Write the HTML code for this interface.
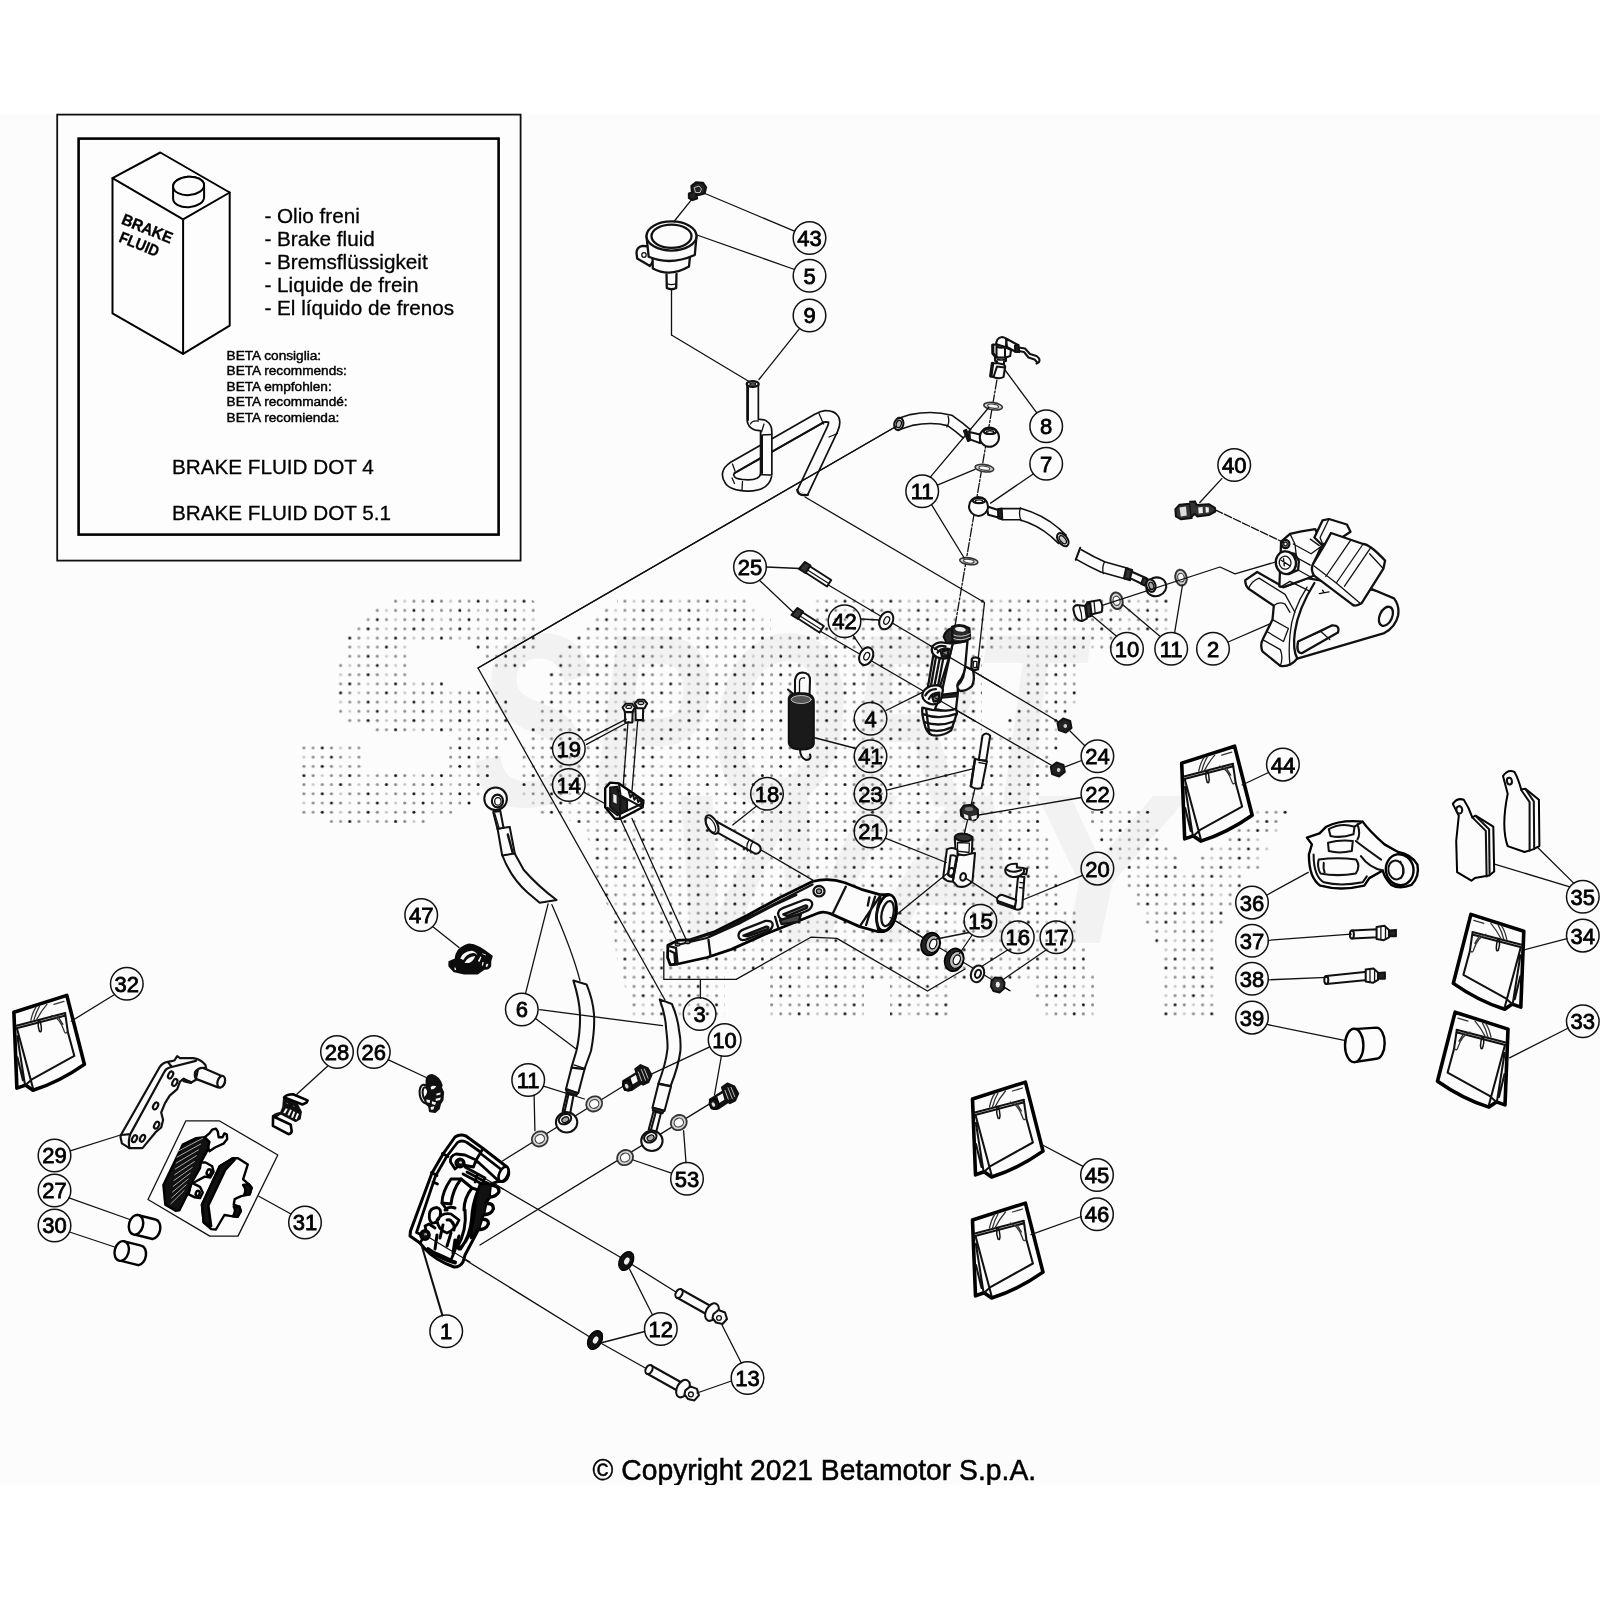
<!DOCTYPE html>
<html lang="en"><head><meta charset="utf-8"><title>Brake system - Betamotor parts diagram</title>
<style>
html,body{margin:0;padding:0;background:#fff;}
body{width:1600px;height:1600px;overflow:hidden;font-family:"Liberation Sans",sans-serif;}
svg{display:block;position:absolute;left:0;top:0;will-change:transform;}
svg text{font-family:"Liberation Sans",sans-serif;fill:#000;}
.l{stroke:#111;stroke-width:1.3;stroke-linecap:round;stroke-linejoin:round}
.t{stroke:#111;stroke-width:2.05;stroke-linecap:round;stroke-linejoin:round}
.b{stroke:#000;stroke-width:2.4;stroke-linecap:round;stroke-linejoin:round}
.w{fill:#fcfcfc}
#p4 .t,#p3 .t,#p5 .t,#p2 .t,#p9 .t{stroke-width:2.3}
#p3 .b{stroke-width:2.8}
.k{fill:#111}
.c circle{fill:none;stroke:#111;stroke-width:1.5}
.c text{font-size:22px;text-anchor:middle;stroke:#000;stroke-width:0.8}
</style></head><body>
<svg width="1600" height="1600" viewBox="0 0 1600 1600" fill="none">
<!-- 00_bg.svgf -->
<rect x="0" y="114" width="1600" height="1370.5" fill="#fcfcfc"/>
<!-- 05_watermark.svgf -->
<defs><pattern id="dots" patternUnits="userSpaceOnUse" x="308.52" y="596.66" width="45.85" height="45.85"><circle cx="4.58" cy="4.58" r="1.5" fill="#c8c8c8"/><circle cx="13.75" cy="4.58" r="1.5" fill="#8a8a8a"/><circle cx="22.93" cy="4.58" r="1.5" fill="#949494"/><circle cx="32.09" cy="4.58" r="1.5" fill="#161616"/><circle cx="41.27" cy="4.58" r="1.5" fill="#858585"/><circle cx="4.58" cy="13.75" r="1.5" fill="#949494"/><circle cx="13.75" cy="13.75" r="1.5" fill="#161616"/><circle cx="22.93" cy="13.75" r="1.5" fill="#858585"/><circle cx="32.09" cy="13.75" r="1.5" fill="#c8c8c8"/><circle cx="41.27" cy="13.75" r="1.5" fill="#8a8a8a"/><circle cx="4.58" cy="22.93" r="1.5" fill="#8a8a8a"/><circle cx="13.75" cy="22.93" r="1.5" fill="#949494"/><circle cx="22.93" cy="22.93" r="1.5" fill="#161616"/><circle cx="32.09" cy="22.93" r="1.5" fill="#858585"/><circle cx="41.27" cy="22.93" r="1.5" fill="#c8c8c8"/><circle cx="4.58" cy="32.09" r="1.5" fill="#949494"/><circle cx="13.75" cy="32.09" r="1.5" fill="#161616"/><circle cx="22.93" cy="32.09" r="1.5" fill="#858585"/><circle cx="32.09" cy="32.09" r="1.5" fill="#c8c8c8"/><circle cx="41.27" cy="32.09" r="1.5" fill="#8a8a8a"/><circle cx="4.58" cy="41.27" r="1.5" fill="#858585"/><circle cx="13.75" cy="41.27" r="1.5" fill="#c8c8c8"/><circle cx="22.93" cy="41.27" r="1.5" fill="#8a8a8a"/><circle cx="32.09" cy="41.27" r="1.5" fill="#949494"/><circle cx="41.27" cy="41.27" r="1.5" fill="#161616"/></pattern><mask id="dotmask" maskUnits="userSpaceOnUse" x="280" y="580" width="1040" height="460"><rect x="280" y="580" width="1040" height="460" fill="#000"/><polygon points="390,596.6 529,596.6 539,606 539,651 529,651 529,670 491.5,670 491.5,660.5 482.5,660.5 482.5,651.5 473.5,651.5 473.5,642.5 408.5,642.5 408.5,679.5 446.5,679.5 446.5,688.5 500.5,688.5 500.5,697.5 510.5,697.5 510.5,743.5 500.5,743.5 500.5,762 492.5,762 492.5,780.5 482.5,780.5 482.5,798.5 474.5,798.5 474.5,807.5 454.5,807.5 454.5,816.5 426.5,816.5 426.5,825.5 327.5,825.5 327.5,816.5 299.5,816.5 299.5,744.5 364.5,744.5 364.5,771 445.5,771 445.5,744 455.5,744 455.5,734.5 371.5,734.5 371.5,725.5 344.5,725.5 344.5,716 335.5,716 335.5,661 344.5,661 344.5,633.5 353.5,633.5 353.5,624 363.5,624 363.5,615 371.5,615 371.5,606 390,606" fill="#fff"/><polygon points="617,596.6 1172.5,596.6 1172.5,633 1113.5,633 1113.5,651.5 1080.5,651.5 1080.5,706.5 1071,706.5 1071,725.5 1062,725.5 1062,753 1053,753 1053,780.5 1043,780.5 1043,835.4 1053,835.4 1053,872.2 1062,872.2 1062,908.8 1076,908.8 1076,945.9 1085,945.9 1085,973.5 1094,973.5 1094,1019.5 1042.5,1019.5 1042.5,1001 1034,1001 1034,983 952,983 952,1019.5 890,1019.5 890,983 864,983 864,1019.5 768.5,1019.5 768.5,974 724.5,974 724.5,1019.5 632,1019.5 627,995 616,955 612,917 597,880 590,842 579,825 575,821 537.5,816.5 537.5,807.5 528.5,807.5 528.5,798.5 519.5,798.5 519.5,743.5 528.5,743.5 528.5,725.5 537.5,725.5 537.5,697.5 547.5,697.5 547.5,670 557.5,670 557.5,651.5 565.5,651.5 565.5,642.5 575.5,642.5 575.5,633.5 583.5,633.5 583.5,624 593.5,624 593.5,615 602,615 602,606 617,606" fill="#fff"/><polygon points="1089.5,807.7 1153.5,807.7 1153.5,826 1162,826 1162,844.5 1171.5,844.5 1171.5,853.7 1181,853.7 1181,872.2 1125.5,872.2 1125.5,863 1117,863 1117,853.7 1107.5,853.7 1107.5,844.5 1097.5,844.5 1097.5,826 1089.5,826" fill="#fff"/><polygon points="1255,807.7 1291.5,807.7 1291.5,816.8 1283,816.8 1283,835.4 1264,835.4 1264,844.5 1272.5,844.5 1272.5,853.7 1264,853.7 1264,872.2 1199.5,872.2 1199.5,853.7 1208.5,853.7 1208.5,844.5 1227.5,844.5 1227.5,835.4 1236,835.4 1236,826 1255,826" fill="#fff"/><polygon points="1125.5,872.2 1245,872.2 1245,890.4 1236.5,890.4 1236.5,908.8 1228,908.8 1228,927.4 1217.5,927.4 1217.5,1019.5 1162.5,1019.5 1162.5,945.9 1153,945.9 1153,927.4 1143.5,927.4 1143.5,908.8 1134,908.8 1134,890.4 1125.5,890.4" fill="#fff"/><polygon points="982,651 1025.5,651 1025.5,706.5 1016,706.5 1016,716 1006.5,716 1006.5,734.5 982,734.5" fill="#000"/><polygon points="748.5,596 813.5,596 813.5,633 770.5,633 770.5,615 759.5,615 759.5,606 748.5,606" fill="#000"/></mask></defs>
<g style="font-weight:bold;font-style:italic" fill="#f5f5f5"><text x="473" y="806" style="font-size:246px;fill:#f2f2f2" textLength="606" lengthAdjust="spacingAndGlyphs">SPORT</text><text x="664" y="943" style="font-size:214px;fill:#f2f2f2" textLength="508" lengthAdjust="spacingAndGlyphs">WAY</text></g>
<rect x="280" y="580" width="1040" height="460" fill="url(#dots)" mask="url(#dotmask)"/>
<!-- 10_box.svgf -->
<g id="fluidbox">
<rect x="57.2" y="114.6" width="463.4" height="446" fill="#fdfdfd" stroke="#111" stroke-width="1.8"/>
<rect x="78.6" y="138.6" width="420" height="396" fill="#fdfdfd" stroke="#000" stroke-width="2.6"/>
<g class="t" style="stroke-width:2;stroke:#000" fill="none">
<path d="M112.5 178.1 L160.3 152.5 L229.7 192.5 L183.1 219.4 Z"/>
<path d="M112.5 178.1 L112.5 313.4 L183.1 353.8 L229.7 325.6 L229.7 192.5"/>
<path d="M183.1 219.4 L183.1 353.8"/>
<ellipse cx="188.6" cy="185.9" rx="15.5" ry="9.2" class="w" transform="rotate(-4 188.6 185.9)"/>
<path d="M173.1 186.5 L173.1 198.8 A15.5 9.2 -4 0 0 204.1 197.2 L204.1 185" class="w"/>
<ellipse cx="188.6" cy="185.9" rx="15.5" ry="9.2" class="w" transform="rotate(-4 188.6 185.9)"/>
</g>
<g style="font-weight:bold;font-size:16px" stroke="#000" stroke-width="0.35">
<text transform="translate(120.4,223.6) rotate(22)" x="0" y="0" textLength="53.5" lengthAdjust="spacingAndGlyphs">BRAKE</text>
<text transform="translate(118,241.4) rotate(22)" x="0" y="0" textLength="41.5" lengthAdjust="spacingAndGlyphs">FLUID</text>
</g>
<g style="font-size:20.7px" stroke="#000" stroke-width="0.3">
<text x="264.4" y="222.5">- Olio freni</text>
<text x="264.4" y="245.6">- Brake fluid</text>
<text x="264.4" y="268.8">- Bremsflüssigkeit</text>
<text x="264.4" y="291.9">- Liquide de frein</text>
<text x="264.4" y="315">- El líquido de frenos</text>
</g>
<g style="font-size:13.65px" stroke="#000" stroke-width="0.45">
<text x="226.6" y="360">BETA consiglia:</text>
<text x="226.6" y="375.3">BETA recommends:</text>
<text x="226.6" y="390.6">BETA empfohlen:</text>
<text x="226.6" y="406.2">BETA recommandé:</text>
<text x="226.6" y="421.6">BETA recomienda:</text>
</g>
<g style="font-size:20.7px" stroke="#000" stroke-width="0.3">
<text x="171.9" y="473.8">BRAKE FLUID DOT 4</text>
<text x="171.9" y="519.7">BRAKE FLUID DOT 5.1</text>
</g>
</g>
<!-- 20_top.svgf -->
<g id="p5">
<path class="t" d="M 650 246.5 L 642.5 245.8 Q 636.5 247 636.5 253 L 637.2 258.5 L 650 266 L 653.5 260.5 Z" style="fill:#fcfcfc"/>
<ellipse class="l" cx="644" cy="255" rx="2.2" ry="2.4"/>
<path class="t" d="M 652.5 256 L 652.8 268.5 Q 670 277.5 689 266.5 L 690 256" style="fill:#fcfcfc"/>
<path class="t" d="M 646.5 236 L 648.7 256.8 Q 670 266 694.8 255 L 696.5 236" style="fill:#fcfcfc"/>
<ellipse class="t" cx="671.5" cy="236" rx="25" ry="14.6" style="fill:#fcfcfc"/>
<ellipse class="t" cx="671.5" cy="236.2" rx="20" ry="11.6"/>
<path class="t" d="M 666.5 274.5 L 666.8 288 Q 671.5 290.5 676.2 288 L 676.5 274" style="fill:#fcfcfc"/>
<path class="l" d="M 666.8 283.5 Q 671.5 285.8 676.2 283.5"/>
<path class="t" d="M 691.5 186 L 696 182.5 L 703 183 L 706 187.5 L 704.5 193.5 L 699 195 L 696 193.5 L 697 198.5 L 692.5 200 L 689 198 L 689 193.5 L 692 192.5 Z" style="fill:#222"/>
<path class="l" d="M 694.5 187.5 L 699 186 L 701.5 189 L 700 192.5 L 696 192.5 Z" style="stroke:#ddd;stroke-width:0.8"/>
<path class="l" d="M692 199.2 L674 221.5"/>
<path class="l" d="M671.5 290 L671.5 335"/>
</g>
<path class="l" d="M705 193.5 L794.5 231.2"/>
<path class="l" d="M697 235 L794.6 269.5"/>
<path class="l" d="M671.5 335 L749 381.5"/>
<path class="l" d="M799.5 328.6 L759 379.5"/>
<g id="p9">
<path d="M 802.5 492.5 L 832.5 429 Q 838 416 825.5 416.2 Q 822 416.5 818 419 L 733 467.5 Q 725 473 730 480 Q 733 485 748 485.5 Q 764 485.5 766.2 475" fill="none" stroke="#111" stroke-width="13" stroke-linejoin="round"/><path d="M 802.5 492.5 L 832.5 429 Q 838 416 825.5 416.2 Q 822 416.5 818 419 L 733 467.5 Q 725 473 730 480 Q 733 485 748 485.5 Q 764 485.5 766.2 475" fill="none" stroke="#fcfcfc" stroke-width="9.6" stroke-linejoin="round"/>
<path class="t" d="M 734.5 473 L 824 422.2" style="stroke-width:2"/>
<path d="M 766.2 475.5 L 766.2 432 Q 766.2 425 760 425 Q 752.7 425 752.7 419 L 752.7 384" fill="none" stroke="#111" stroke-width="13" stroke-linejoin="round"/><path d="M 766.2 475.5 L 766.2 432 Q 766.2 425 760 425 Q 752.7 425 752.7 419 L 752.7 384" fill="none" stroke="#fcfcfc" stroke-width="9.6" stroke-linejoin="round"/>
<path class="t" d="M 797.2 490 Q 798.5 496.5 807.8 494.8"/>
<ellipse class="t" cx="752.7" cy="384" rx="6" ry="2.8" style="fill:#fcfcfc"/>
<ellipse class="l" cx="752.7" cy="384" rx="2.8" ry="1.2" style="fill:#999"/>
<path class="l" d="M 819 413.5 L 823.5 424"/>
<path class="l" d="M 829 437 L 837.5 433.5"/>
<path class="l" d="M 732.5 464 L 735 471"/>
<path class="l" d="M 732 478 L 734.5 483.5"/>
<path class="l" d="M 742.5 481.5 L 742 490"/>
<path class="l" d="M 761 474.5 L 771.5 475"/>
<path class="l" d="M 761.5 435 L 771.5 434.5"/>
<path class="l" d="M 750.5 424 Q 752 420 758.5 421"/>
<path class="l" d="M 764 424 L 761.5 432"/>
<path class="t" d="M 748 387 L 748 420" style="stroke-width:2"/>
<path class="t" d="M 762 436 L 762 473" style="stroke-width:2"/>
</g>
<!-- 22_hoses.svgf -->
<path class="l" d="M996.9 380 L955 626" style="stroke-dasharray:9 2 2 2"/>
<g id="p8">
<path class="t" d="M 1018.5 347.5 L 1025 348.5 L 1030 354 L 1036.5 356 Q 1040.8 359 1039 362 L 1036.5 363.5 M 1018.5 351 L 1024 352 L 1028.5 357.5 L 1034.5 359.5 L 1036.5 361.5"/>
<path class="t" d="M 1006 338.5 L 1018 345 L 1019 352 L 1015 351.5 L 1007 347 Z" style="fill:#fcfcfc"/>
<path class="t" d="M 1015 345.5 L 1018.5 345 L 1019.2 352 L 1015.2 351.8 Z" style="fill:#222"/>
<path class="t" d="M 996 346 Q 995.8 337.5 1002 336.9 Q 1006 337.2 1006.2 340 L 1006 347 Z" style="fill:#fcfcfc"/>
<path class="t" d="M 992.5 345 L 996.5 344.2 L 1005 347 L 1011 350 L 1010.2 356 L 1005 357.8 L 996.5 357.5 L 992.8 353.5 Z" style="fill:#fcfcfc"/>
<path class="t" d="M 996.5 344.2 L 996.5 357.5 M 1005 347 L 1005 357.8 M 996.5 346.5 Q 1001 348.5 1005 347"/>
<path class="t" d="M 992.8 345 L 992.9 353.5 L 996.5 357.5" style="stroke-width:3"/>
<path class="t" d="M 995 357.5 L 1006 357.8 L 1006 361 L 1004 361.5 L 1004 366 L 997 366 L 997 361.2 L 995 360.8 Z" style="fill:#fcfcfc"/>
<path class="l" d="M 997.2 359.5 Q 1001 360.5 1005.8 359.5"/>
<path class="t" d="M 992.5 363.5 L 997 363 L 1004 364.5 L 1005.2 366.5 L 1003.5 377 Q 999 380 990.8 376 Z" style="fill:#fcfcfc"/>
<path class="t" d="M 997 366.5 L 993.5 377 M 997 366.5 L 1004.5 367.5"/>
<path class="t" d="M 992.5 363.5 L 990.8 376" style="stroke-width:3.4"/>
</g>
<ellipse cx="993.1" cy="406.2" rx="9.4" ry="3.6" fill="#d4d4d4" stroke="#333" stroke-width="1.6" transform="rotate(8 993.1 406.2)"/><ellipse cx="993.1" cy="406.2" rx="5.452" ry="1.98" fill="#fcfcfc" stroke="#444" stroke-width="1.2" transform="rotate(8 993.1 406.2)"/>
<ellipse cx="984.4" cy="468.2" rx="9.4" ry="3.6" fill="#d4d4d4" stroke="#333" stroke-width="1.6" transform="rotate(8 984.4 468.2)"/><ellipse cx="984.4" cy="468.2" rx="5.452" ry="1.98" fill="#fcfcfc" stroke="#444" stroke-width="1.2" transform="rotate(8 984.4 468.2)"/>
<ellipse cx="968.8" cy="561.2" rx="9.2" ry="3.4" fill="#d4d4d4" stroke="#333" stroke-width="1.6" transform="rotate(8 968.8 561.2)"/><ellipse cx="968.8" cy="561.2" rx="5.336" ry="1.87" fill="#fcfcfc" stroke="#444" stroke-width="1.2" transform="rotate(8 968.8 561.2)"/>
<g id="p7a">
<path d="M 967.5 434.4 Q 960 427.5 950 420.6 Q 932.5 415.6 911.2 420 L 898.8 424" fill="none" stroke="#111" stroke-width="12.6" stroke-linejoin="round"/><path d="M 967.5 434.4 Q 960 427.5 950 420.6 Q 932.5 415.6 911.2 420 L 898.8 424" fill="none" stroke="#fcfcfc" stroke-width="9.4" stroke-linejoin="round"/>
<ellipse class="t" cx="898.8" cy="424" rx="4.5" ry="6.2" transform="rotate(15 898.8 424)" style="fill:#fcfcfc"/>
<ellipse class="l" cx="898.8" cy="424" rx="2.5" ry="3.8" transform="rotate(15 898.8 424)" style="fill:#bbb"/>
<path class="l" d="M 948.1 416.2 Q 950 421.9 946.9 426.9"/>
<path class="t" d="M 966.2 429.8 L 970.2 440 L 968.1 441 L 964 431 Z" style="fill:#222"/>
<path class="t" d="M 969.4 431.9 L 980 434.4 L 980 443.1 L 970 439.4 Z" style="fill:#fcfcfc"/>
<circle cx="989.4" cy="437.2" r="9.6" fill="#fcfcfc" class="t"/><ellipse cx="990" cy="431.4" rx="6.2" ry="2.6" fill="#fcfcfc" class="t"/><ellipse cx="990" cy="432.2" rx="3.72" ry="1.43" class="l"/>
<path class="l" d="M 980 433.1 Q 978.8 437.5 980.6 443.1"/>
</g>
<path class="l" d="M896 426.5 L478 668"/>
<g id="p7b">
<path d="M 1001.7 514.2 L 1020.5 514.2 Q 1040 519.7 1055 532.5 L 1062.8 539.7" fill="none" stroke="#111" stroke-width="12.8" stroke-linejoin="round"/><path d="M 1001.7 514.2 L 1020.5 514.2 Q 1040 519.7 1055 532.5 L 1062.8 539.7" fill="none" stroke="#fcfcfc" stroke-width="9.6" stroke-linejoin="round"/>
<ellipse class="t" cx="1062.8" cy="539.7" rx="4.5" ry="7.5" transform="rotate(-38 1062.8 539.7)" style="fill:#fcfcfc"/>
<ellipse class="l" cx="1062.8" cy="539.7" rx="2.5" ry="4.8" transform="rotate(-38 1062.8 539.7)" style="fill:#ccc"/>
<path class="l" d="M 1020.5 507.7 Q 1018.2 514.5 1021.2 520.8"/>
<path class="t" d="M 997.7 509.2 L 1001.7 508.5 L 1002.2 519.3 L 998.3 518.2 Z" style="fill:#222"/>
<path class="t" d="M 986.7 506.2 L 998 510 L 998.3 517.5 L 988.2 514.8 Z" style="fill:#fcfcfc"/>
<circle cx="978.5" cy="506.4" r="9.5" fill="#fcfcfc" class="t"/><ellipse cx="979" cy="500.6" rx="6.2" ry="2.6" fill="#fcfcfc" class="t"/><ellipse cx="979" cy="501.4" rx="3.72" ry="1.43" class="l"/>
</g>
<g id="p7c">
<path d="M 1078.2 554.2 Q 1091 561.7 1103 567 L 1127 573.7" fill="none" stroke="#111" stroke-width="12.4" stroke-linejoin="round"/><path d="M 1078.2 554.2 Q 1091 561.7 1103 567 L 1127 573.7" fill="none" stroke="#fcfcfc" stroke-width="9.2" stroke-linejoin="round"/>
<path class="t" d="M 1080.2 547.8 L 1075.7 559.8"/>
<path class="l" d="M 1104.5 561.7 Q 1101.8 567.7 1103.3 573.7"/>
<path class="t" d="M 1126.2 568.2 L 1132.2 570 L 1130 580.2 L 1124 578.2 Z" style="fill:#333"/>
<path class="t" d="M 1131.8 571.8 L 1146.5 578.2 L 1144.2 585 L 1130 578.2 Z" style="fill:#fcfcfc"/>
<path class="t" d="M 1143.5 577.5 L 1147.7 579.3 L 1145 585.7 L 1141.2 583.8 Z" style="fill:#333"/>
<ellipse class="t" cx="1156.2" cy="586.8" rx="10.2" ry="9.3" transform="rotate(-20 1156.2 586.8)" style="fill:#fcfcfc"/>
<ellipse class="t" cx="1151" cy="585.7" rx="4.5" ry="6.3" transform="rotate(-15 1151 585.7)" style="fill:#fcfcfc"/>
<ellipse class="l" cx="1151.3" cy="585.9" rx="2.4" ry="3.9" transform="rotate(-15 1151.3 585.9)" style="fill:#aaa"/>
</g>
<ellipse cx="1181" cy="577.6" rx="5.6" ry="8" fill="#d4d4d4" stroke="#333" stroke-width="2" transform="rotate(-12 1181 577.6)"/><ellipse cx="1181" cy="577.6" rx="3.248" ry="4.4" fill="#fcfcfc" stroke="#444" stroke-width="1.2" transform="rotate(-12 1181 577.6)"/>
<ellipse cx="1116.6" cy="600.8" rx="6" ry="8.4" fill="#d4d4d4" stroke="#333" stroke-width="2" transform="rotate(-12 1116.6 600.8)"/><ellipse cx="1116.6" cy="600.8" rx="3.48" ry="4.62" fill="#fcfcfc" stroke="#444" stroke-width="1.2" transform="rotate(-12 1116.6 600.8)"/>
<g id="p10a">
<path class="t" d="M 1087.2 602.2 L 1100 600 Q 1103.7 605.2 1101.5 612 L 1088.7 615 Z" style="fill:#fcfcfc"/>
<path class="l" d="M 1089.5 601.8 L 1091 614.5 M 1094 601.2 L 1095.2 613.5"/>
<path class="t" d="M 1085.7 604.5 L 1090.2 603.3 L 1091.7 615.7 L 1087.2 617.2 Z" style="fill:#333"/>
<path class="t" d="M 1073.3 609 Q 1073.7 604.5 1079 605.2 L 1085 606 L 1086.8 618.7 L 1082 621 Q 1075.2 621.7 1073.3 609 Z" style="fill:#fcfcfc"/>
<path class="l" d="M 1079.3 605.7 Q 1082 613.5 1082 621"/>
</g>
<path class="l" d="M1103 605.2 L1220 567 L1235 573.8 L1282.5 560"/>
<path class="l" d="M1005 370 L1036.8 412.8"/>
<path class="l" d="M1033.2 474 L990.6 503.1"/>
<path class="l" d="M988.8 407.5 L930.3 477.2"/>
<path class="l" d="M975 469.4 L937.4 485.2"/>
<path class="l" d="M931.5 504.6 L964.2 558"/>
<path class="l" d="M1089.5 613.5 L1116.6 636.2"/>
<path class="l" d="M1122.5 604.5 L1160.2 636.6"/>
<path class="l" d="M1182.5 585 L1174.6 632.8"/>
<path class="l" d="M805 497 L984.5 602.5 L978 660"/>
<!-- 24_caliper2.svgf -->
<g id="p2">
<path class="t" d="M 1245.3 580.1 L 1257.2 572 L 1283.5 587.1 L 1307.1 578.1 L 1372.9 589.5 L 1394 598.4 Q 1399.7 605.8 1398.1 615.5 Q 1395.6 626.9 1384.3 633.1 L 1297.3 658.6 Q 1290 667.5 1280.3 665.9 L 1262.4 651.3 Q 1259.9 644.8 1262.7 639.6 L 1272.5 619.6 L 1273.8 605.8 L 1248.6 588.7 Q 1244.8 584.6 1245.3 580.1 Z" style="fill:#fcfcfc"/>
<path class="l" d="M 1248.6 588.7 Q 1251 581.4 1259.1 578.1 L 1285.1 594.4 L 1294.9 612.3 M 1273.8 605.8 Q 1278.6 600.9 1285.1 604.1 L 1290 612.3 M 1272.5 619.6 L 1288.4 628.5 M 1262.7 639.6 L 1280.3 649.6 Q 1283.5 657.8 1280.3 665.9 M 1267.3 631.8 L 1283.5 641.5 M 1288.4 628.5 L 1283.5 641.5"/>
<path class="t" d="M 1314.4 583 Q 1298.1 609 1294.9 631.8 Q 1292.4 649.6 1297.3 658.6"/>
<path class="l" d="M 1307.1 587.1 Q 1291.6 610.6 1290 635 Q 1288.4 651.3 1290 665.1"/>
<path class="t" d="M 1298.1 641.5 L 1332.3 625.3 Q 1340.4 625.3 1337.9 632.6 L 1301.7 653.2 Q 1295.7 652.9 1298.1 641.5 Z" style="fill:#fcfcfc"/>
<path class="l" d="M 1298.1 641.5 L 1320.9 631.4 L 1329.8 639.6 M 1320.9 631.4 L 1332.3 625.3"/>
<ellipse class="t" cx="1385.9" cy="616.3" rx="6.2" ry="10.1" transform="rotate(25 1385.9 616.3)" style="fill:#fcfcfc"/>
<path class="l" d="M 1369.6 589.5 L 1379.4 591.9 M 1322.5 590.3 Q 1325.8 593.6 1319.3 593.6 L 1329 591.9"/>
<path class="t" d="M 1281.1 541.6 L 1290 533.9 L 1301.4 531.3 L 1315.2 529.1 L 1322.5 544 L 1312.8 565.1 L 1313.6 575.7 L 1307.1 578.5 L 1283.5 587.1 L 1279.4 586.3 Z" style="fill:#fcfcfc"/>
<path class="l" d="M 1293.3 544 L 1311.1 553.8 L 1320.1 547.3 M 1295.7 557 L 1310.3 565.1 M 1298.1 570 L 1311.1 577.3 M 1280.3 587.1 L 1290 581.4 L 1309.5 591.1 M 1290 533.9 L 1294.9 544 L 1298.1 570"/>
<path class="t" d="M 1322.5 520.4 L 1329 519 L 1346.9 524.5 L 1350.5 531.8 L 1332.3 544 L 1320.9 544 L 1314.4 537.5 Z" style="fill:#fcfcfc"/>
<path class="l" d="M 1329 519 L 1320.1 537.5 L 1322.5 544 M 1310.3 539.1 L 1319.3 545.6"/>
<path class="t" d="M 1324.1 545.6 L 1331 533 L 1363.1 544 Q 1369.6 544 1385.1 560.6 L 1383.4 568.7 L 1361.5 603.3 Q 1355 607.4 1351.8 604.1 L 1314.1 575.7 Q 1310.3 570 1313.1 563.8 Z" style="fill:#fcfcfc"/>
<path class="l" d="M 1363.1 544 L 1336.3 583 L 1360.7 603.8 M 1336.3 583 L 1314.1 565.9 M 1370.4 548.1 L 1344.4 586.3 M 1350.9 539.9 L 1325.8 576.5 M 1383.4 568.7 L 1369.6 553.8"/>
<path class="t" d="M 1286.8 552.1 L 1294.9 553.8 L 1298.9 561.1 L 1298.1 570 L 1288.4 574.1" style="fill:#fcfcfc"/>
<ellipse class="t" cx="1285.9" cy="562.7" rx="10.1" ry="11.4" transform="rotate(-10 1285.9 562.7)" style="fill:#fcfcfc"/>
<ellipse class="l" cx="1285.1" cy="562.7" rx="5.9" ry="6.5" transform="rotate(-10 1285.1 562.7)" style="fill:#fcfcfc"/>
<path class="l" d="M 1281.1 560.3 L 1290 565.9 M 1283.5 558.6 L 1284.3 565.9"/>
<ellipse class="t" cx="1285.5" cy="544" rx="3.9" ry="4.2" style="fill:#fcfcfc"/>
<ellipse class="l" cx="1285.5" cy="544" rx="1.8" ry="2"/>
</g>
<g id="p40">
<path class="t" d="M 1175.4 509.1 L 1179.5 504.7 L 1190.1 503.7 L 1191.7 518 L 1181.1 519.3 L 1175.9 516.4 Z" style="fill:#333"/>
<path class="l" d="M 1179.5 507.4 L 1186 506.6 L 1186.8 515.6 L 1180.8 516.4 Z" style="fill:#ddd;stroke:none"/>
<path class="t" d="M 1190.1 501.8 L 1194.9 501.4 L 1196.6 505 L 1208.8 504.2 L 1214.9 507.9 L 1215.3 511.5 L 1208.8 515.1 L 1197.1 516.4 L 1194.9 513.9 L 1191.7 516.4" style="fill:#333"/>
<path class="l" d="M 1198.2 507.4 L 1202.6 507 L 1202.9 513.1 L 1198.7 513.5 Z M 1205.5 507 L 1208.8 507.4 L 1208.8 512.3 L 1205.8 512.8 Z" style="fill:#eee;stroke:none"/>
</g>
<path class="l" d="M1221.8 478.6 L1199.8 502.5"/>
<path class="l" d="M1215.3 509.9 L1283.5 542.4" style="stroke-dasharray:8 2"/>
<path class="l" d="M1228.2 642 L1270.5 623.6"/>
<!-- 30_master.svgf -->
<path class="l" d="M827.5 584.5 L1063.8 725"/>
<path class="l" d="M820 631 L1057.5 768.8"/>
<g id="p4">
<path class="t" d="M 922.3 707.6 Q 921.7 713.7 924.1 722.5 Q 926.2 733 932.4 735.2 Q 942 736.9 951.2 730.4 L 957 712.9 L 956 708.5 Q 939.4 712.9 922.3 707.6 Z" style="fill:#fcfcfc"/>
<path class="t" d="M 922.9 714.2 Q 939.4 720.3 956.9 713.7 M 924.3 722.1 Q 939.4 727.3 954.4 721.2 M 926.7 729.1 Q 939.4 733.4 952.3 727 M 926.2 709.8 L 929.3 733.4"/>
<path class="t" d="M 941.1 694.5 L 957.9 692.3 L 956 708.9 Q 945.5 712.4 935 708.9 Z" style="fill:#fcfcfc"/>
<path class="l" d="M 942 694.9 L 957.3 692.9 L 957 696.7 L 941.8 698 Z" style="fill:#222"/>
<path class="t" d="M 965.2 666.5 L 972.8 670 Q 975.4 678.7 971.9 686.2 Q 966.5 691.2 960.4 691 Q 956.9 689.4 956.9 686.2 Q 961.2 682.2 963.2 677 Z" style="fill:#fcfcfc"/>
<path class="t" d="M 971.9 658.6 Q 975.4 656 979.4 658.8 L 977.9 669.3 Q 974.4 671 971.3 668.4 Z" style="fill:#fcfcfc"/>
<path class="l" d="M 973.7 661.2 L 977 661.7 L 976.3 667.8 L 973.1 667.2 Z"/>
<path class="t" d="M 952.5 643.7 L 967.5 640.9 L 965.2 666.5 Q 964.7 672.6 961.2 678.7 Q 956 684 957.7 688.4 L 957.9 692.6 L 941.1 694.9 Z" style="fill:#fcfcfc"/>
<path class="t" d="M 952.1 626.7 Q 960.4 622.9 969.3 628.2 L 970.2 638.5 Q 961.2 644.2 951.6 641.3 Z" style="fill:#2a2a2a"/>
<ellipse class="l" cx="960.4" cy="629.3" rx="5.4" ry="2.3" transform="rotate(8 960.4 629.3)" style="fill:#eee;stroke:none"/>
<path class="l" d="M 952.5 634.6 Q 961.2 638.5 970 633.7 M 952.3 638.1 Q 961.2 642 970 637.2" style="stroke:#ddd;stroke-width:0.9"/>
<path class="t" d="M 943.7 636.7 Q 945.5 629.7 952.1 628 L 952.5 641.1 L 947.2 643.7 Z" style="fill:#2a2a2a"/>
<path class="t" d="M 933.2 656 L 928 686.6 L 939.4 688.4 L 949 657.7 Z" style="fill:#fcfcfc"/>
<path class="t" d="M 936 656.9 L 930.8 686.8 M 939.8 657.7 L 934.1 687.5 M 943.3 658.4 L 937.6 687.9"/>
<path class="t" d="M 932.2 646.8 Q 936.7 641.1 945.5 642.9 L 952.7 643.7 L 949.4 657.3 Q 942 659.9 936.7 657 Q 930.2 653.5 932.2 646.8 Z" style="fill:#fcfcfc"/>
<path class="t" d="M 935 649 Q 938.5 644.6 945.5 646.4 M 937.6 652.5 Q 941.1 647.7 949 649 M 941.1 652.5 L 949 649 L 947.7 656 L 942 656.9 Z"/>
<path class="l" d="M 942 652.5 L 948.1 649.9 L 947.2 655.6 L 942.9 656 Z" style="fill:#888"/>
<path class="t" d="M 922.6 692.9 Q 926.2 685.7 935 685.3 Q 942 684.7 943 690.1 L 940.4 701.5 Q 935 706 928.9 703.4 Q 920.8 699.9 922.6 692.9 Z" style="fill:#fcfcfc"/>
<path class="t" d="M 925.4 695.4 Q 928.9 689.2 935.9 689.2 M 928.9 698.9 Q 931.5 692.7 939.4 692.7 M 932.4 697.1 L 939.4 693.6 L 938.5 700.6 L 933.7 701.5 Z"/>
<path class="l" d="M 932.8 697.1 L 938.9 694.3 L 938.1 700.2 L 933.9 700.8 Z" style="fill:#888"/>
</g>
<path class="l" d="M886 710.5 L921.9 692.7"/>
<path class="l" d="M930 645.6 L1000 687"/>
<path class="l" d="M935 697.7 L975 721"/>
<path class="t" d="M 800 569 L 805.5 563.5 L 831.2 580 L 827 586.5 Z" style="fill:#fcfcfc"/><path class="t" d="M 799 569 L 805 562 L 810.5 565.5 L 805.5 573 Z" style="fill:#333"/><path class="l" d="M 807.5 570 L 828 583"/>
<path class="t" d="M 792.5 615 L 798 609.5 L 823.8 626 L 819.5 632.5 Z" style="fill:#fcfcfc"/><path class="t" d="M 791.5 615 L 797.5 608 L 803 611.5 L 798 619 Z" style="fill:#333"/><path class="l" d="M 800 616 L 820.5 629"/>
<ellipse cx="886.2" cy="620.5" rx="6.6" ry="9.2" transform="rotate(25 886.2 620.5)" fill="#fcfcfc" class="t"/><ellipse cx="886.7" cy="620.5" rx="2.6" ry="4" transform="rotate(25 886.7 620.5)" fill="#fcfcfc" class="l"/>
<ellipse cx="866.2" cy="656.2" rx="6.6" ry="9.2" transform="rotate(25 866.2 656.2)" fill="#fcfcfc" class="t"/><ellipse cx="866.7" cy="656.2" rx="2.6" ry="4" transform="rotate(25 866.7 656.2)" fill="#fcfcfc" class="l"/>
<path class="l" d="M766.3 567 L800 568.5"/>
<path class="l" d="M759.5 580.3 L793.5 612.5"/>
<path class="l" d="M860.6 619 L879 620"/>
<path class="l" d="M853 635.2 L863 650"/>
<polygon points="1071.5,727.9 1065.8,732.5 1058.8,730.1 1057.5,723.1 1063.2,718.5 1070.2,720.9" fill="#222" stroke="#111" stroke-width="2" stroke-linejoin="round"/><circle cx="1065.3" cy="726" r="2.475" fill="#ccc" stroke="#111" stroke-width="1"/>
<polygon points="1064.8,771.9 1059.1,776.5 1052.1,774.1 1050.8,767.1 1056.5,762.5 1063.5,764.9" fill="#222" stroke="#111" stroke-width="2" stroke-linejoin="round"/><circle cx="1058.6" cy="770" r="2.475" fill="#ccc" stroke="#111" stroke-width="1"/>
<path class="l" d="M1084.8 745.8 L1070 731"/>
<path class="l" d="M1081.6 760.5 L1065 766.8"/>
<g id="p41">
<path class="t" d="M 795 695 L 795 680 Q 796.2 672.5 802.5 672.5 Q 810 673 810 680 L 809.5 696.2" style="fill:#fcfcfc"/>
<path class="l" d="M 799.5 695 L 799.5 681.2 Q 800.5 677 804.5 678"/>
<path class="t" d="M 788.8 700 Q 788 692.5 800 693 Q 813.8 693 813.8 701.2 L 813.8 743.8 Q 813 749.5 801.2 749.5 Q 789.5 749.5 788.8 743 Z" style="fill:#1a1a1a"/>
<ellipse class="l" cx="801.2" cy="699.5" rx="10" ry="4" style="fill:#555;stroke:#ddd;stroke-width:0.8"/>
<path class="t" d="M 800 749.5 Q 800 757.5 806.2 760 Q 812 759.5 810 754.5"/>
<path class="t" d="M 788 689.5 L 793 693.8"/>
</g>
<path class="l" d="M813.8 737.5 L856 748.5"/>
<path class="l" d="M975 788.1 L963.8 836.2"/>
<g id="p23">
<path class="t" d="M 975 759 L 970.6 786.2 Q 975.6 790 981.5 788.1 L 986.9 761.2 Z" style="fill:#fcfcfc"/>
<path class="t" d="M 982.5 735.6 Q 986.2 731.2 990.2 735.6 L 986.2 760.6 L 978.8 759.8 Z" style="fill:#fcfcfc"/>
<path class="t" d="M 975 759 L 971 786.2" style="stroke-width:2.4"/>
<path class="l" d="M 979 762.5 L 986.2 763.8"/>
</g>
<path class="l" d="M886.6 790.2 L972.5 768.8"/>
<g id="p22">
<path class="t" d="M 960.6 810 L 963.8 805.6 L 972.5 804.8 L 977.8 809.4 L 978.1 816.9 L 975 820 L 965 818.8 L 961.2 815.6 Z" style="fill:#2a2a2a"/>
<path class="l" d="M 963.8 813.8 L 968.1 815.6 L 968.5 819.4 L 964.5 818.1 Z M 971.2 816.2 L 976.9 815 L 976.5 818.8 L 971.9 820 Z" style="fill:#eee;stroke:none"/>
<ellipse class="l" cx="969" cy="809" rx="4.2" ry="2" style="fill:#777;stroke:none"/>
</g>
<path class="l" d="M978.8 815 L1081.6 797.5"/>
<g id="p21">
<path class="t" d="M 957.5 855 L 975 853.1 L 972.5 881.2 Q 966.2 888.8 957.5 886.2 L 952.8 881.2 Z" style="fill:#fcfcfc"/>
<path class="t" d="M 954.8 836.9 Q 962.5 831.2 972.5 836.9 L 971.9 853.1 Q 962.5 857.5 955.6 852.5 Z" style="fill:#fcfcfc"/>
<ellipse class="t" cx="963.5" cy="837.5" rx="8.5" ry="3.8" transform="rotate(5 963.5 837.5)" style="fill:#333"/>
<path class="l" d="M 957.5 842.5 L 969.4 843.1 L 969 852.5 L 957.5 851.2 Z"/>
<path class="t" d="M 946.9 849.4 Q 952.5 846.2 957.5 850 L 957.5 855 L 952.8 881.2 Q 947.5 882.5 943.1 877.8 Z" style="fill:#fcfcfc"/>
<path class="t" d="M 950.6 855.6 Q 954.4 854.4 956.5 856.9 L 952.8 877.5 Q 950 876.9 948.1 875 Z" style="fill:#fcfcfc"/>
<ellipse class="t" cx="951.2" cy="871.9" rx="2.8" ry="4" transform="rotate(15 951.2 871.9)" style="fill:#fcfcfc"/>
<ellipse class="t" cx="963.1" cy="876.9" rx="2.8" ry="3.8" transform="rotate(15 963.1 876.9)" style="fill:#fcfcfc"/>
</g>
<path class="l" d="M885.3 838.2 L946.2 862.5"/>
<g id="p20">
<path class="t" d="M 1018.1 876.2 L 1024.4 876.9 L 1022.2 907.5 Q 1018.8 911.2 1014.8 908.8 Z" style="fill:#fcfcfc"/>
<path class="t" d="M 996.9 898.8 Q 998.8 894.4 1002.5 895 L 1016.2 900 L 1014.4 908.8 L 998.1 903.1 Z" style="fill:#fcfcfc"/>
<path class="t" d="M 997.8 901.2 L 1013.8 906.9" style="stroke-width:2.4"/>
<path class="t" d="M 1005.2 870 Q 1006.2 863.8 1015 863.8 L 1016.9 863.8 L 1016.9 867.5 L 1023.8 868.1 L 1024 871.9 Q 1020 877.5 1012.5 876.9 Q 1005 875.6 1005.2 870 Z" style="fill:#fcfcfc"/>
<path class="t" d="M 1006.2 869.4 Q 1012.5 873.8 1021.2 870 M 1024.4 868.8 L 1027.2 868.5 L 1026.2 874.4 L 1023.5 874"/>
<path class="l" d="M 1020 882.5 L 1023.5 882.8 M 1019.4 887.5 L 1023.1 888.1"/>
</g>
<path class="l" d="M1022.5 900 L1082.6 875.4"/>
<path class="l" d="M965.6 878.1 L996.9 898.1"/>
<path class="l" d="M949 872 L890 920"/>
<!-- 32_lever.svgf -->
<path class="l" d="M896 426.5 L478 668 L665 1000"/>
<path class="l" d="M663.8 951.8 L663.8 979.4 L736.1 979.4 L810.9 937.2 L836.9 938.4 L927.5 991 L965 969"/>
<path class="l" d="M700.4 979.4 L700.4 998"/>
<path class="l" d="M890 917.5 L1008.8 990"/>
<g id="p3">
<path class="b" d="M 667.9 945.3 L 677.6 940.4 L 690.6 939.6 L 715 931.5 L 747.5 915.3 L 780 897.4 L 812.5 881.5 Q 828.8 877.1 845 882.8 L 861.3 889.3 L 880.8 894.9 L 888.9 894.5 Q 897 900.6 896.2 913.6 Q 893.8 928.3 884 931.5 L 877.5 931.5 L 859.6 926.6 L 830.4 913.6 Q 823.9 911.2 819 912.8 L 796.3 921.8 L 763.8 934.8 L 731.3 949.4 L 706.9 957.5 L 677.6 964 L 670.3 964.8 L 667.6 957.5 Z" style="fill:#fcfcfc"/>
<path class="t" d="M 690.6 940 Q 703.6 936.4 718.3 931.5 L 754 914.4 L 789.8 896.1 L 812.5 884.4 M 679.3 944.5 L 706.9 938 L 741 922.6 L 773.5 905.5 L 796.3 894.9 M 677.6 964 L 676 947.8 L 667.9 945.8 M 670.3 951 L 674.4 953 L 675.2 964"/>
<path class="t" d="M 708.5 940 L 710.5 955.9 M 775.1 916.9 L 778.7 929.1 M 845.8 886.8 L 832.8 913.6 M 880.8 894.9 L 859.6 926.6 M 875.1 896.6 L 866.1 925 M 869.4 897.4 L 867.8 905.5"/>
<path class="t" d="M 738.6 936.4 Q 737.8 931.5 744.3 929.1 L 765.4 920.9 Q 772.7 920.1 772.7 925 Q 771.9 929.9 767 931.5 L 745.9 939.6 Q 739.4 941.3 738.6 936.4 Z" style="fill:#fcfcfc"/>
<path class="t" d="M 743.4 935.6 L 766.2 926.6 Q 769.4 926.6 767.8 929.1 L 747.5 936.4 Z" style="fill:#888"/>
<path class="t" d="M 778.4 915.3 Q 776.8 910.4 783.3 907.9 L 804.4 899.8 Q 812.5 899 812.2 904.7 Q 810.9 909.6 806 911.2 L 786.5 919.3 Q 780 920.9 778.4 915.3 Z" style="fill:#fcfcfc"/>
<path class="t" d="M 783.3 914.4 L 805.2 905.5 Q 808.4 905.5 806.8 907.9 L 787.3 916.1 Z" style="fill:#888"/>
<path class="t" d="M 780 920.1 L 801.1 913.6 L 798.7 921.8 L 781.6 924.2 Z" style="fill:#444"/>
<ellipse class="t" cx="819" cy="891.2" rx="5.5" ry="5.2" style="fill:#fcfcfc"/>
<ellipse class="l" cx="819" cy="891.2" rx="2.6" ry="2.4" style="fill:#999"/>
<ellipse class="l" cx="677.6" cy="944.5" rx="2.3" ry="1.5" style="fill:#777"/>
<ellipse class="l" cx="687.7" cy="942.2" rx="2.3" ry="1.5" style="fill:#777"/>
<ellipse class="b" cx="886.4" cy="912.8" rx="9.4" ry="18.2" transform="rotate(12 886.4 912.8)" style="fill:#fcfcfc"/>
<ellipse class="t" cx="887.6" cy="913.6" rx="5.9" ry="12.7" transform="rotate(12 887.6 913.6)" style="fill:#fcfcfc"/>
<path class="t" d="M 880.4 897.1 Q 874.3 912 878.3 930.7"/>
</g>
<path class="l" d="M627.9 723.3 L623.1 787.5"/>
<path class="l" d="M637.7 720.9 L632 790.8"/>
<path class="l" d="M620.6 819.2 L677.5 942.7"/>
<path class="l" d="M632 818.4 L686.4 940.3"/>
<g id="p19">
<path class="t" d="M 624.9 711.5 L 632.7 711.5 L 632.3 722.5 L 625.2 722.5 Z" style="fill:#fcfcfc"/>
<path class="t" d="M 622.6 707.4 L 625.8 703.7 L 632 703.7 L 634.9 707.4 L 632.3 712.1 L 625.2 712.1 Z" style="fill:#fcfcfc"/>
<ellipse class="l" cx="628.8" cy="706.9" rx="2.9" ry="1.5"/>
<path class="t" d="M 635.4 707.6 L 643.2 707.6 L 642.9 720.1 L 635.7 720.1 Z" style="fill:#fcfcfc"/>
<path class="t" d="M 634.8 703.5 L 638 699.8 L 644.2 699.8 L 647.1 703.5 L 644.5 708.2 L 637.4 708.2 Z" style="fill:#fcfcfc"/>
<ellipse class="l" cx="640.9" cy="703" rx="2.9" ry="1.5"/>
</g>
<path class="l" d="M584.9 740.4 L626.3 719.2"/>
<path class="l" d="M586.5 744.4 L628.7 721.7"/>
<g id="p14">
<path class="b" d="M 605.2 788.3 L 610.1 782.6 L 619 783.4 L 643.4 800.5 L 642.6 807.3 L 620.6 818.7 L 614.9 818.7 L 605.2 807.3 Z" style="fill:#fcfcfc"/>
<path class="t" d="M 610.1 787.5 L 617.4 786.7 L 619 795.6 L 627.1 800.5 L 627.1 810.3 L 619 814.3 L 610.1 807 Z" style="fill:#222"/>
<path class="l" d="M 613.3 794 L 616.6 795.6 L 616.6 803.8 L 613.3 802.1 Z" style="fill:#eee;stroke:none"/>
<path class="t" d="M 619 784.3 L 620.6 795.6 L 642.6 807.3 M 620.6 795.6 L 619.8 818.4 M 628.8 791.6 L 630.4 797.3 L 632.8 794 L 634.4 799.7 L 636.9 796.4 L 638.2 802.1 L 640.5 799.2 L 641.8 804.6"/>
<path class="t" d="M 607.6 807.8 L 617.4 815.1 L 641.8 803.8"/>
</g>
<path class="l" d="M584.1 792.4 L605.2 803.7"/>
<g id="p18">
<path class="t" d="M 714.6 820.5 L 757.9 844.4 Q 762 847.3 760.1 851.2 Q 757.8 854.8 754.2 853.2 L 711.3 829.1 Z" style="fill:#fcfcfc"/>
<path class="l" d="M 749 840.3 Q 745.8 845.2 747.4 851.2 M 752.6 842.4 Q 749.3 847.3 751 853"/>
<ellipse class="t" cx="712" cy="824.6" rx="5.2" ry="10.1" transform="rotate(-28 712 824.6)" style="fill:#fcfcfc"/>
<ellipse class="l" cx="710.8" cy="825" rx="3.6" ry="8.1" transform="rotate(-28 710.8 825)"/>
</g>
<path class="l" d="M756.3 806.2 L732.7 824.9"/>
<path class="l" d="M761.2 850.1 L814 880.9"/>
<ellipse cx="930.6" cy="944" rx="9.4" ry="11.6" transform="rotate(20 930.6 944)" fill="#222" stroke="#000" stroke-width="1.6"/><ellipse cx="932.8" cy="944" rx="6.6" ry="8.6" transform="rotate(20 932.8 944)" fill="#bbb" stroke="#000" stroke-width="1"/><ellipse cx="933.2" cy="944" rx="3.4" ry="5" transform="rotate(20 933.2 944)" fill="#fcfcfc" stroke="#000" stroke-width="1.2"/>
<ellipse cx="954.2" cy="959.8" rx="9.4" ry="11.6" transform="rotate(20 954.2 959.8)" fill="#222" stroke="#000" stroke-width="1.6"/><ellipse cx="956.4" cy="959.8" rx="6.6" ry="8.6" transform="rotate(20 956.4 959.8)" fill="#bbb" stroke="#000" stroke-width="1"/><ellipse cx="956.8" cy="959.8" rx="3.4" ry="5" transform="rotate(20 956.8 959.8)" fill="#fcfcfc" stroke="#000" stroke-width="1.2"/>
<ellipse cx="977.5" cy="973.8" rx="6.4" ry="8.6" transform="rotate(20 977.5 973.8)" fill="#fcfcfc" class="t"/>
<ellipse cx="978" cy="973.8" rx="2.8" ry="4.2" transform="rotate(20 978 973.8)" fill="#fcfcfc" class="t"/>
<path class="t" fill="#333" d="M991.5 981 L995 977.5 L1001.5 978 L1004.5 982.5 L1004 988.5 L999.5 992.5 L993.5 991 L991 986.5 Z"/>
<ellipse cx="997.8" cy="984.6" rx="2.6" ry="3.4" fill="#eee" stroke="#111" stroke-width="0.8"/>
<path class="l" d="M890 917.5 L925 939"/>
<path class="l" d="M1003 986.5 L1010 990.8"/>
<path class="l" d="M969 932.5 L936.5 939"/>
<path class="l" d="M972.2 935 L959.5 953.5"/>
<path class="l" d="M1007.6 950 L981.6 966.5"/>
<path class="l" d="M1046 950 L1002.5 980"/>
<!-- 40_front.svgf -->
<path class="l" d="M623.5 1086 L502.5 1161"/>
<path class="l" d="M709.6 1103.9 L480 1245"/>
<g id="p6a">
<path class="t" d="M 502.2 855 Q 510.6 877.5 527.5 892.5 L 539.7 902.8 L 556.6 900 Q 538.8 886.9 523.8 870 L 514.4 853.1 Z" style="fill:#fcfcfc"/>
<path class="t" d="M 497.5 828.4 L 509.7 826.9 L 514.8 853.5 L 502.2 855.4 Z" style="fill:#fcfcfc"/>
<path class="t" d="M 507.8 834.4 L 512.5 852.2" style="stroke-width:2.4"/>
<path class="t" d="M 493.2 811.9 L 500.3 810.9 L 503.5 827.8 L 497.5 829.1 Z" style="fill:#fcfcfc"/>
<path class="l" d="M 494.7 813.4 L 499 827.8"/>
<ellipse class="t" cx="495.6" cy="798.8" rx="11.3" ry="11.3" style="fill:#fcfcfc"/>
<ellipse class="t" cx="497.5" cy="801" rx="5.6" ry="6.4" style="fill:#fcfcfc"/>
<ellipse class="l" cx="497.9" cy="801.4" rx="3.2" ry="3.8"/>
</g>
<path class="l" d="M548.1 903.8 L525.5 993.6"/>
<path class="l" d="M551.9 904.7 Q572 950 580 980.6"/>
<g id="p6b">
<path class="t" fill="#fcfcfc" d="M573.4 980.6 Q579.5 1000 580 1014.4 Q580.5 1032 576.4 1051 L571.5 1067.4 L584.5 1069 L591 1051 Q595 1030 594 1014.4 Q593 1000 586.6 984.4 Z"/>
<path class="l" d="M 573.9 1064.9 L 585.3 1068.7"/>
<path class="t" d="M 571.5 1067.7 L 584.5 1069.3 L 578.3 1093.1 L 565.8 1089.8 Z" style="fill:#fcfcfc"/>
<path class="t" d="M 567 1089.3 L 577.7 1093.1 L 576.4 1095.3 L 566.3 1092.6 Z" style="fill:#333"/>
<path class="t" d="M 566.6 1093.7 L 573.5 1095.3 L 570.2 1113.2 L 562.6 1111.3 Z" style="fill:#fcfcfc"/>
<path class="t" d="M 568.3 1095 L 564.7 1110.9"/>
<ellipse class="t" cx="566.6" cy="1122.3" rx="10.7" ry="10.1" style="fill:#fcfcfc"/>
<ellipse class="t" cx="565" cy="1119.1" rx="6.5" ry="4.9" transform="rotate(-25 565 1119.1)" style="fill:#fcfcfc"/>
<ellipse class="l" cx="565.3" cy="1119.7" rx="3.6" ry="2.6" transform="rotate(-25 565.3 1119.7)" style="fill:#aaa"/>
</g>
<g id="p6c">
<path class="t" fill="#fcfcfc" d="M659.7 999.4 Q665.5 1015 666.2 1029.4 Q668 1045 667.4 1049.5 Q666 1063 658.4 1083.6 L670.6 1086 Q678.5 1066 680.4 1051 Q681 1040 679.4 1033 Q678 1018 671.9 1004 Z"/>
<path class="l" d="M 660.1 1083.6 L 671.4 1086.2"/>
<path class="t" d="M 658.4 1084 L 671 1086.6 L 664.5 1110.9 L 652.4 1108 Z" style="fill:#fcfcfc"/>
<path class="t" d="M 653.6 1107.7 L 663.8 1110.6 L 662.5 1113.2 L 652.8 1110.4 Z" style="fill:#333"/>
<path class="t" d="M 653.6 1111.3 L 660.9 1113.2 L 656.3 1131.6 L 648.7 1129.5 Z" style="fill:#fcfcfc"/>
<path class="t" d="M 655.7 1112.6 L 651.1 1129.5"/>
<ellipse class="t" cx="651.9" cy="1140.8" rx="10.7" ry="10.1" style="fill:#fcfcfc"/>
<ellipse class="t" cx="650.3" cy="1137.3" rx="6.5" ry="4.9" transform="rotate(-25 650.3 1137.3)" style="fill:#fcfcfc"/>
<ellipse class="l" cx="650.6" cy="1137.9" rx="3.6" ry="2.6" transform="rotate(-25 650.6 1137.9)" style="fill:#aaa"/>
</g>
<ellipse cx="594.2" cy="1103.9" rx="8.2" ry="7.4" fill="#d4d4d4" stroke="#333" stroke-width="1.8" transform="rotate(-30 594.2 1103.9)"/><ellipse cx="594.2" cy="1103.9" rx="4.756" ry="4.292" fill="#fcfcfc" stroke="#444" stroke-width="1.2" transform="rotate(-30 594.2 1103.9)"/>
<ellipse cx="539.8" cy="1138.9" rx="8.2" ry="7.4" fill="#d4d4d4" stroke="#333" stroke-width="1.8" transform="rotate(-30 539.8 1138.9)"/><ellipse cx="539.8" cy="1138.9" rx="4.756" ry="4.292" fill="#fcfcfc" stroke="#444" stroke-width="1.2" transform="rotate(-30 539.8 1138.9)"/>
<ellipse cx="678.8" cy="1122.6" rx="8.2" ry="7.4" fill="#d4d4d4" stroke="#333" stroke-width="1.8" transform="rotate(-30 678.8 1122.6)"/><ellipse cx="678.8" cy="1122.6" rx="4.756" ry="4.292" fill="#fcfcfc" stroke="#444" stroke-width="1.2" transform="rotate(-30 678.8 1122.6)"/>
<ellipse cx="625.1" cy="1157.6" rx="8.2" ry="7.4" fill="#d4d4d4" stroke="#333" stroke-width="1.8" transform="rotate(-30 625.1 1157.6)"/><ellipse cx="625.1" cy="1157.6" rx="4.756" ry="4.292" fill="#fcfcfc" stroke="#444" stroke-width="1.2" transform="rotate(-30 625.1 1157.6)"/>
<path class="t" style="fill:#141414" d="M637.1 1072.5 L623.1 1081.2 L624.8 1090 L631.8 1090 L642.3 1083 Z"/><path style="fill:#f6f6f6" d="M630.7 1078.1 L638.2 1073.6 L639.7 1080.1 L632.4 1084.6 Z"/><ellipse cx="627.5" cy="1085.6" rx="4.6" ry="5.6" transform="rotate(-30 627.5 1085.6)" style="fill:#141414;stroke:#000;stroke-width:1.4"/><ellipse cx="626.7" cy="1086.1" rx="1.6" ry="2.4" transform="rotate(-30 626.7 1086.1)" style="fill:#ddd"/><path class="t" style="fill:#141414" d="M635.3 1069 L640.6 1065.1 L647.6 1068.1 L651.5 1075.1 L648.4 1082.1 L643.2 1084.7 L638.8 1081.2 Z"/><path style="fill:none;stroke:#ccc;stroke-width:0.9" d="M641.2 1069.1 L645.7 1080.6 M644.2 1068.6 L648.2 1078.6 M638.2 1071.6 L641.7 1081.1"/>
<path class="t" style="fill:#141414" d="M723.8 1090.9 L709.8 1099.6 L711.5 1108.4 L718.5 1108.4 L729 1101.4 Z"/><path style="fill:#f6f6f6" d="M717.4 1096.5 L724.9 1092 L726.4 1098.5 L719.1 1103 Z"/><ellipse cx="714.2" cy="1104" rx="4.6" ry="5.6" transform="rotate(-30 714.2 1104)" style="fill:#141414;stroke:#000;stroke-width:1.4"/><ellipse cx="713.4" cy="1104.5" rx="1.6" ry="2.4" transform="rotate(-30 713.4 1104.5)" style="fill:#ddd"/><path class="t" style="fill:#141414" d="M722 1087.4 L727.3 1083.5 L734.3 1086.5 L738.2 1093.5 L735.1 1100.5 L729.9 1103.1 L725.5 1099.6 Z"/><path style="fill:none;stroke:#ccc;stroke-width:0.9" d="M727.9 1087.5 L732.4 1099 M730.9 1087 L734.9 1097 M724.9 1090 L728.4 1099.5"/>
<path class="l" d="M539.7 1009.7 L662.5 1025.6"/>
<path class="l" d="M535.5 1018.6 L576.2 1049"/>
<path class="l" d="M534.1 1095 L534.9 1130.7"/>
<path class="l" d="M543.5 1086.2 L584.5 1099"/>
<path class="l" d="M709.8 1046.8 L651.9 1073.9"/>
<path class="l" d="M721.4 1056 L714.5 1095"/>
<path class="l" d="M686 1162.5 L683.6 1130.7"/>
<path class="l" d="M671.4 1173.2 L633.2 1160"/>
<g id="p47">
<path class="t" d="M 449.4 961.9 L 455.7 959.2 Q 456.1 948 469.2 944.4 Q 477.5 944.6 491.7 956.2 L 490.2 961.1 L 490.2 966 Q 488 969.4 484.2 968.6 L 477.5 973.5 L 464.4 973.5 L 454.2 971.2 L 449.4 966 Z" style="fill:#0c0c0c;stroke:#0c0c0c"/>
<path class="l" d="M 460.2 958.5 Q 462.5 951.7 471.9 950.8 Q 476.7 951.7 477.5 955.9 Q 476.4 952.9 473 952.9 Q 466.2 954 463.2 960 Z M 464.4 963 Q 467 957 475.2 955.9 Q 473.7 960.7 469.2 963 Z M 477.9 961.1 L 480.5 956.2 L 481.4 957.2 L 479.4 961.9 Z M 482.4 961.9 L 483.7 962.1 L 483.1 965.6 L 481.8 965.4 Z M 486.5 963.7 L 488.4 963.9 L 487.2 966.9 L 485.6 966.6 Z M 454.2 967.5 L 455.7 967.7 L 456.1 970.1 L 454.8 969.9 Z M 482.4 953.2 L 486.1 954.7 L 485.9 955.5 L 482.2 954 Z" style="fill:#f8f8f8;stroke:none"/>
</g>
<path class="l" d="M432.6 926.6 L459 947.5"/>
<path class="l" d="M460 1164 L620 1257"/>
<path class="l" d="M425 1235 L589 1336.5"/>
<g id="p1">
<path class="b" d="M 410.5 1231 L 432 1173 L 443 1154 L 455 1137 Q 460 1133.5 466 1136 L 483 1148.5 L 507 1167 Q 510.5 1173 507 1178.5 Q 504 1182.5 499 1181.2 L 491 1184 Q 500 1186 499 1192 Q 496 1197 489.5 1197.5 L 485.5 1203 Q 494 1202.5 493.5 1209 Q 491 1215 483.5 1215 L 481.2 1219 Q 489 1218.5 488.5 1224 Q 486 1230 478.2 1230 L 465 1255 L 463 1262 Q 460 1267.2 454 1267 Q 435 1260 425 1249 L 420 1243 L 410 1236 Z" style="stroke-width:3;fill:#fcfcfc"/>
<path class="b" d="M 416.5 1232.5 L 435.5 1176 L 447 1156 L 457.5 1142.5 Q 461.5 1139.5 467 1142.5 L 479 1151 M 416.5 1232.5 L 422 1235 M 431.5 1172.5 L 437 1175.5 M 442.5 1153.5 L 448 1156.5 M 433 1182 L 437.5 1184" style="stroke-width:2.8"/>
<path class="b" d="M 478 1162 L 499 1181.2 M 483 1148.5 L 475 1162 L 478 1162 M 480 1153 L 502.5 1170.5" style="stroke-width:2.8"/>
<ellipse class="b" cx="503.5" cy="1174" rx="4.2" ry="7.8" transform="rotate(25 503.5 1174)" style="stroke-width:2.6;fill:#fcfcfc"/>
<path class="b" d="M 450.5 1162 Q 449.5 1156 456 1154 L 465 1155 L 476 1160 L 473.5 1167 L 460 1164.5 L 455 1169 Z" style="stroke-width:2.8;fill:#fcfcfc"/>
<ellipse class="b" cx="460" cy="1163" rx="4.4" ry="4.2" style="fill:#111"/>
<ellipse class="l" cx="460.5" cy="1162.5" rx="1.4" ry="1.2" style="fill:#ddd;stroke:none"/>
<path class="b" d="M 465 1167 L 485 1178 L 482 1184 L 463 1174 M 477 1176 L 475 1182 M 467 1172 L 491 1185" style="stroke-width:2.8"/>
<path class="b" d="M 480 1184 L 491 1184 Q 495 1190 489.5 1197.5 L 485.5 1203 Q 490 1208 483.5 1215 L 481.2 1219 Q 485 1224 478.2 1230 L 471 1238 Q 472 1220 475 1206 Q 476 1194 480 1184 Z" style="fill:#111"/>
<path class="b" d="M 491 1186 Q 499 1187 498 1192 Q 495.5 1196 490 1196.2 Z M 486.5 1204.5 Q 493 1203.8 492.5 1209 Q 490.5 1213.5 484.5 1213.5 Z M 482.2 1220.2 Q 488 1219.8 487.5 1224 Q 485.5 1228.5 479.5 1228.5 Z" style="stroke-width:1.6;fill:#fcfcfc"/>
<path class="b" d="M 451 1179 Q 442 1192 442 1203 L 451 1204 Q 452.5 1190 461 1179 Z" style="stroke-width:3;fill:#fcfcfc"/>
<path class="b" d="M 472 1188 Q 464 1198 464 1210 M 478 1190 Q 472 1205 471.5 1220 Q 470 1236 460.5 1249 M 475 1205 Q 474 1220 471 1230 Q 467 1242 459 1249 M 465 1210 Q 467.2 1230 457 1248 M 461 1179 L 472 1188 L 478 1190" style="stroke-width:3"/>
<path class="b" d="M 429.5 1214 Q 430 1208 437 1207.5 Q 442 1209 440 1216 Q 437 1224 432 1223 Q 428.5 1220 429.5 1214 Z M 437 1220 Q 442 1212 451 1214 L 459 1220 Q 455 1230 447 1233 Q 438 1230 437 1220 Z" style="stroke-width:2.8;fill:#fcfcfc"/>
<path class="b" d="M 445 1210 Q 449 1206 455 1208 M 442 1203 L 447 1210 M 451 1221 Q 455 1224 454 1230 M 443 1225 L 440 1238 M 451 1233 L 447 1246 M 459 1236 L 455 1249 M 437 1235 L 435 1249 M 455 1240 L 453 1253 M 447 1220 Q 451 1219 453 1224" style="stroke-width:3"/>
<path class="b" d="M 420 1243 Q 428 1232 425 1226 L 429 1224 L 435 1228 M 425 1249 Q 437 1253 451 1260 L 455 1250" style="stroke-width:2.8"/>
<ellipse class="b" cx="425" cy="1235" rx="4.6" ry="4.8" style="fill:#111"/>
<ellipse class="l" cx="425.5" cy="1234.5" rx="1.4" ry="1.3" style="fill:#ddd;stroke:none"/>
<path class="b" d="M 428 1249 Q 440 1258.5 455 1262.5" style="stroke-width:4"/>
</g>
<path class="l" d="M460 1164 L503 1189"/>
<path class="l" d="M425 1235 L470 1262"/>
<path class="t" d="M421.5 1245 L442.4 1315.4"/>
<path class="l" d="M620 1257 L677.5 1293"/>
<path class="l" d="M589 1336.5 L648 1369.5"/>
<ellipse cx="626.2" cy="1261" rx="6.6" ry="10" transform="rotate(28 626.2 1261)" fill="#111" stroke="#000" stroke-width="1.4"/><ellipse cx="626.8" cy="1261" rx="2.4" ry="3.8" transform="rotate(28 626.8 1261)" fill="#eee"/>
<ellipse cx="595" cy="1340" rx="6.6" ry="10" transform="rotate(28 595 1340)" fill="#111" stroke="#000" stroke-width="1.4"/><ellipse cx="595.6" cy="1340" rx="2.4" ry="3.8" transform="rotate(28 595.6 1340)" fill="#eee"/>
<path class="t" fill="#fcfcfc" d="M676.7 1297.5 L708.7 1315.5 L713.3 1307.5 L681.3 1289.5 Z"/><ellipse cx="679" cy="1293.5" rx="3.2" ry="4.8" transform="rotate(28 679 1293.5)" fill="#fcfcfc" class="t"/><ellipse cx="712" cy="1312.1" rx="6" ry="9.4" transform="rotate(28 712 1312.1)" fill="#fcfcfc" class="t"/><path class="t" fill="#fcfcfc" d="M713.5 1314 l5 -4 l6.5 2.5 l2 6.5 l-4.5 5 l-6.5 -1.5 l-3.5 -4.5 Z"/><circle cx="719" cy="1318" r="2.4" class="l"/>
<path class="t" fill="#fcfcfc" d="M646.8 1373.5 L679.8 1392 L684.2 1384 L651.2 1365.5 Z"/><ellipse cx="649" cy="1369.5" rx="3.2" ry="4.8" transform="rotate(28 649 1369.5)" fill="#fcfcfc" class="t"/><ellipse cx="683" cy="1388.6" rx="6" ry="9.4" transform="rotate(28 683 1388.6)" fill="#fcfcfc" class="t"/><path class="t" fill="#fcfcfc" d="M685.4 1390.4 l5 -4 l6.5 2.5 l2 6.5 l-4.5 5 l-6.5 -1.5 l-3.5 -4.5 Z"/><circle cx="690.9" cy="1394.4" r="2.4" class="l"/>
<path class="l" d="M652.5 1315 L629.5 1269"/>
<path class="l" d="M644.7 1331.5 L602.5 1342.5"/>
<path class="l" d="M741.3 1363 L722 1325"/>
<path class="l" d="M731.4 1381 L697 1393"/>
<!-- 50_groups.svgf -->
<defs><g id="bag"><path d="M0 0 L52.9 -16.9 L70.5 52.1 Q45 70 19.1 78 L11.6 72.8 L3 75.8 Z" fill="#fcfcfc" stroke="#000" stroke-width="3.6" stroke-linejoin="round"/><path class="t" d="M2.3 13.5 L51.4 0.75 M2.6 16 L51.6 3.2 M51.4 2 L54 20 L60.4 43.5 M18.4 66.8 L60.4 43.5 M3 16 L19.1 76 M3.4 24 L10.9 71.3 M3.5 45 L9 68 M11.6 72.8 L18.4 66.8"/><path class="t" d="M24.5 8 Q23.5 14 25.5 19 Q27.5 21 27.5 16 Q27 11 26 8" style="stroke-width:1.5"/><path class="l" d="M17 8 Q19 -1 22 -5 M20 8 Q22 0 25.5 -6 M23 7 Q27 -1 33 -8 M38 3 Q46 6 50 18 Q51 22 53 20 M44 4 L49 12 M40 -8 L50 -11" style="stroke:#333"/></g></defs>
<use href="#bag" transform="translate(13.9 1012.3)"/>
<use href="#bag" transform="translate(1181.7 763.1)"/>
<use href="#bag" transform="translate(972.5 1099)"/>
<use href="#bag" transform="translate(972.5 1220)"/>
<use href="#bag" transform="translate(1523.8 931.3) scale(-1 1)"/>
<use href="#bag" transform="translate(1508 1029.1) scale(-1 1)"/>
<path class="l" d="M113.8 995 L71.2 1021.2"/>
<path class="l" d="M1268.5 772.5 L1242.1 785"/>
<path class="l" d="M1083 1166.4 L1041.6 1144.5"/>
<path class="l" d="M1081.4 1216.5 L1031 1234.7"/>
<path class="l" d="M1567 938.6 L1523.8 950"/>
<path class="l" d="M1568.4 1028 L1509.5 1057.8"/>
<g id="p29">
<path class="t" d="M 198.7 1066.1 L 221.2 1075.7 Q 225.5 1077.8 225 1082.5 Q 223.1 1087.7 218 1087.4 L 195.9 1078.9 Z" style="stroke-width:2.2;fill:#fcfcfc"/>
<ellipse class="t" cx="221.2" cy="1081.7" rx="3.6" ry="6" transform="rotate(18 221.2 1081.7)" style="stroke-width:2.2;fill:#fcfcfc"/>
<path class="t" d="M 120.9 1135 L 159.4 1067.5 Q 162.2 1062.8 167.8 1061.9 L 174.4 1060.5 L 177.2 1056.2 L 180 1058.1 L 193.1 1058.1 Q 200.6 1059.1 205.3 1064.7 L 206.2 1068.4 Q 198.7 1066.6 195 1072.2 Q 194.1 1076.9 196.4 1079.5 L 191.2 1082.5 L 183.7 1078.7 L 180 1081.6 L 177.2 1089.1 L 169.7 1095.6 L 165 1103.1 L 161.2 1112.5 L 163.1 1120 L 161.2 1127.5 L 155.6 1132.2 L 142.5 1148.1 L 129.4 1148.1 L 121.9 1143.4 L 120.5 1136.9 Z" style="stroke-width:2.2;fill:#fcfcfc"/>
<path class="t" d="M 130.3 1134.1 L 164.1 1072.2 Q 165.9 1068.4 169.7 1067.5 L 195.9 1060.9 M 120.9 1135 L 130.3 1134.1 Q 128 1140.6 129.4 1148.1 M 167.8 1061.9 L 171.6 1066.7 M 183.7 1080.2 L 191.2 1082 L 190.8 1083 L 183.6 1081.1 Z" style="stroke-width:2.2"/>
<ellipse class="t" cx="170.6" cy="1075" rx="2.2" ry="3.7" transform="rotate(28 170.6 1075)" style="stroke-width:2.2;fill:#fcfcfc"/>
<ellipse class="t" cx="174.8" cy="1082.5" rx="2.2" ry="3.7" transform="rotate(28 174.8 1082.5)" style="stroke-width:2.2;fill:#fcfcfc"/>
<ellipse class="t" cx="155.6" cy="1105.9" rx="2.2" ry="3.7" transform="rotate(28 155.6 1105.9)" style="stroke-width:2.2;fill:#fcfcfc"/>
<ellipse class="t" cx="156.6" cy="1125.2" rx="2.2" ry="3.7" transform="rotate(28 156.6 1125.2)" style="stroke-width:2.2;fill:#fcfcfc"/>
<ellipse class="t" cx="134.5" cy="1138.7" rx="2.2" ry="3.7" transform="rotate(28 134.5 1138.7)" style="stroke-width:2.2;fill:#fcfcfc"/>
<ellipse class="t" cx="142.5" cy="1138.3" rx="2.2" ry="3.7" transform="rotate(28 142.5 1138.3)" style="stroke-width:2.2;fill:#fcfcfc"/>
</g>
<path class="l" d="M70.2 1150.8 L120.5 1135"/>
<path class="b" fill="#fcfcfc" d="M137.5 1215 L155.5 1219.5 A7 10 15 0 1 152.5 1239 L134.5 1234.5 Z"/><ellipse cx="136" cy="1224.8" rx="7" ry="10" transform="rotate(15 136 1224.8)" fill="#fcfcfc" class="b"/>
<path class="b" fill="#fcfcfc" d="M123.2 1241.2 L141.2 1245.7 A7 10 15 0 1 138.2 1265.2 L120.2 1260.7 Z"/><ellipse cx="121.7" cy="1251" rx="7" ry="10" transform="rotate(15 121.7 1251)" fill="#fcfcfc" class="b"/>
<path class="l" d="M69 1197.8 L131.2 1220"/>
<path class="l" d="M69.5 1232 L116.2 1247.5"/>
<g id="p31">
<path class="l" d="M 185.9 1120.8 L 219.2 1120.8 L 277.8 1155 L 238 1236.1 L 209.8 1236.1 L 148 1199.5 Z"/>
<path class="b" d="M 204.7 1137.2 L 209.4 1133.4 L 212.2 1129.7 L 215.9 1128.7 L 217.8 1131.6 L 218.7 1137.2 L 222.5 1137.2 L 224.4 1133.4 L 226.7 1134.4 L 227.2 1139.1 L 223.4 1143.7 L 215 1147.5 L 209.4 1151.2 Z" style="fill:#fcfcfc"/>
<path class="b" d="M 200.9 1162.5 L 205.6 1162.5 L 212.2 1166.2 L 213.6 1171.9 L 210.3 1177.5 L 204.7 1176.6 L 196.2 1181.2 L 192.5 1183.1 L 200 1186.9 L 202.8 1192.5 L 200 1198.1 L 194.4 1197.2 L 188.7 1194.4 L 192.5 1175.6 Z" style="fill:#fcfcfc"/>
<ellipse class="b" cx="208.9" cy="1172.3" rx="2.1" ry="3" transform="rotate(20 208.9 1172.3)" style="fill:#fcfcfc"/>
<ellipse class="b" cx="197.7" cy="1193.4" rx="1.9" ry="2.6" transform="rotate(20 197.7 1193.4)" style="fill:#fcfcfc"/>
<path class="b" d="M 163.4 1185 L 182.7 1144.7 L 196.2 1138.1 L 204.7 1137.2 L 209.4 1141.9 L 207.5 1150.3 L 200.9 1162.5 L 200 1168.1 L 192.5 1181.2 L 188.7 1191.6 L 179.4 1210.3 L 175.6 1210.8 L 165.3 1204.7 Z" style="fill:#111"/>
<path class="l" d="M 170.9 1203.7 L 184.1 1190.6" style="stroke:#ccc;stroke-width:0.8"/>
<path class="l" d="M 171.7 1197.9 L 186.1 1184.8" style="stroke:#ccc;stroke-width:0.8"/>
<path class="l" d="M 172.4 1192.1 L 188.2 1179" style="stroke:#ccc;stroke-width:0.8"/>
<path class="l" d="M 173.2 1186.3 L 190.2 1173.2" style="stroke:#ccc;stroke-width:0.8"/>
<path class="l" d="M 173.9 1180.5 L 192.3 1167.4" style="stroke:#ccc;stroke-width:0.8"/>
<path class="l" d="M 174.7 1174.7 L 194.4 1161.6" style="stroke:#ccc;stroke-width:0.8"/>
<path class="l" d="M 175.4 1168.9 L 196.4 1155.7" style="stroke:#ccc;stroke-width:0.8"/>
<path class="l" d="M 176.2 1163.1 L 198.5 1149.9" style="stroke:#ccc;stroke-width:0.8"/>
<path class="l" d="M 176.9 1157.2 L 200.6 1144.1" style="stroke:#ccc;stroke-width:0.8"/>
<path class="l" d="M 177.7 1151.4 L 202.6 1138.3" style="stroke:#ccc;stroke-width:0.8"/>
<path class="b" d="M 201.9 1204.7 L 219.7 1166.2 L 232.8 1158.3 L 238 1158.3 L 247.8 1164.4 L 243.1 1179.4 L 248.7 1184.1 L 251.6 1187.8 L 249.7 1194.4 L 241.2 1196.2 L 234.7 1199.1 L 233.7 1204.7 L 239.4 1206.6 L 240.8 1211.2 L 237.5 1216.9 L 230 1215.9 L 224.4 1215 L 215.9 1229.5 L 211.2 1229.1 L 203.7 1222.5 Z" style="fill:#fcfcfc"/>
<path class="b" d="M 201.9 1204.7 L 219.7 1166.2 L 232.8 1158.3 L 234.7 1159.7 L 225.3 1170 L 208.4 1205.6 L 211.2 1226.2 L 203.7 1222.5 Z" style="fill:#111"/>
<path class="b" d="M 243.1 1185 L 248.7 1184.1 L 251.6 1187.8 L 249.7 1194.4 L 244.1 1194.8 Q 246.9 1189.7 243.1 1185 Z M 233.7 1206.6 L 239.4 1206.6 L 240.8 1211.2 L 237.5 1216.9 L 232.8 1216.4 Q 236.6 1211.2 233.7 1206.6 Z" style="fill:#111"/>
</g>
<path class="l" d="M258.8 1196.2 L291 1214"/>
<g id="p28">
<path class="t" d="M 284 1098.5 L 297.1 1104.5 L 300.9 1112 L 299.7 1118.7 L 295.6 1121 L 281 1113.5 L 275 1117.2 L 273.1 1116.1 Q 275 1113.9 277.6 1113.5 L 281 1112.7 L 283.2 1107.5 Z" style="fill:#0e0e0e"/>
<path class="l" d="M 283.2 1112.7 L 285.9 1108.2 L 287.7 1109 L 285.1 1113.5 Z M 287.4 1115 L 290 1109.4 L 291.9 1110.1 L 289.2 1115.7 Z M 291.1 1117.2 L 293.4 1111.2 L 295.2 1112 L 293 1118 Z M 294.9 1118.7 L 297.1 1113.1 L 299 1113.9 L 296.7 1119.5 Z M 286.2 1102.2 L 288.5 1104.5 L 287 1103.7 Z M 293 1105.2 L 294.9 1106.7 L 293.7 1106.6 Z M 279.5 1115 L 281.4 1116.1 L 279.9 1116.5 Z M 286.2 1118.7 L 288.1 1119.5 L 286.6 1119.9 Z" style="fill:#f8f8f8;stroke:none"/>
<path class="b" d="M 284 1097.4 Q 286.2 1094.4 293 1094.2 L 307.6 1100.4 L 306.5 1102.6 L 302.4 1104.5 L 286.2 1098.1 Z" style="stroke-width:2.6;fill:#fcfcfc"/>
<path class="b" d="M 273.1 1116.1 L 272.9 1125.9 L 288.5 1134.1 Q 291.5 1133.7 291.7 1131.1 L 290.7 1124.7 L 286.2 1122.5 L 275 1117.2 Z" style="stroke-width:2.6;fill:#fcfcfc"/>
</g>
<path class="l" d="M327.5 1066.2 L296.8 1094.2"/>
<g id="p26">
<path class="t" d="M 426.6 1080.6 Q 426.9 1075 431.9 1075 Q 438.8 1076.9 441.6 1085 L 440.9 1088.1 Q 435 1083.8 426.6 1085 Z" style="fill:#111"/>
<ellipse class="t" cx="425" cy="1094.1" rx="5.3" ry="9.4" transform="rotate(-10 425 1094.1)" style="fill:#fcfcfc"/>
<ellipse class="t" cx="425.9" cy="1094.1" rx="3.1" ry="6.9" transform="rotate(-10 425.9 1094.1)" style="fill:#fcfcfc"/>
<path class="t" d="M 428.8 1085 Q 435 1083.8 441.2 1088.1 L 443.1 1092.5 L 442.5 1100 L 440 1103.8 L 438.8 1108.8 L 435 1111.9 L 430 1111.2 L 429.1 1106.2 L 425.6 1103.1 L 425 1097.5 Q 428.8 1095 428.8 1085 Z" style="fill:#111"/>
<path class="l" d="M 430.6 1086.9 Q 433.1 1085 436.2 1086.2 Q 434.4 1089.4 431.2 1089.4 Z M 436.2 1093.8 L 440.6 1092.5 L 440.3 1094.4 L 436.6 1095.6 Z M 435.6 1098.8 L 440.9 1097.5 L 440 1100 L 435.9 1100.9 Z M 426.2 1099.4 L 430 1100 L 429.7 1103.1 L 426.9 1102.2 Z M 431.9 1101.2 L 436.2 1102.5 L 435 1105 L 431.9 1104.1 Z M 430.6 1106.9 L 434.4 1106.2 L 433.4 1109.4 L 430.9 1109.7 Z" style="fill:#f4f4f4;stroke:none"/>
</g>
<path class="l" d="M388.5 1059.8 L426.2 1077.5"/>
<g id="p36">
<path class="b" d="M 1306.9 837.6 L 1319.5 833.4 L 1326.3 826.7 Q 1340.6 819.4 1362.6 821.6 Q 1369.3 830.9 1384.5 844.4 L 1398 852 Q 1411.5 854.5 1417.4 864.6 Q 1419.9 876.4 1411.5 884.9 Q 1399.7 889.6 1391.3 884.9 Q 1384.5 878.1 1382.8 870.5 L 1369.3 878.1 L 1364.3 885.7 Q 1340.6 891.3 1320.4 885.7 Q 1308.9 878.1 1308.9 854.5 L 1311.9 844.4 Z" style="fill:#fcfcfc"/>
<path class="t" d="M 1328.8 829.2 Q 1340.6 822.4 1354.5 826.7 L 1353.5 834.3 Q 1340.6 838.5 1330.5 835.9 Z M 1328 842.7 Q 1340.6 839.3 1352.8 841 L 1351.8 851.1 Q 1338.9 853.8 1328.8 851.1 Z M 1318.7 859.6 Q 1337.3 857 1356.2 859.6 Q 1360.9 866.3 1355.8 873.4 Q 1337.3 876.8 1320.4 873.4 Q 1316.7 866.3 1318.7 859.6 Z" style="fill:#fcfcfc"/>
<path class="t" d="M 1323.8 862.9 Q 1322.9 868 1324.6 872.7 M 1313.6 854.5 Q 1313.6 876.4 1323.8 882.3 Q 1340.6 886.6 1362.6 882.3 L 1366.8 876.4 M 1355.8 841 Q 1364.3 847.8 1381.1 859.6 M 1360.9 856.2 Q 1369.3 868 1382.8 870.5 M 1354.5 826.7 L 1362.6 821.6 M 1357.5 824.1 Q 1360.9 834.3 1357.5 839.3"/>
<ellipse class="b" cx="1399.7" cy="869.7" rx="13.8" ry="15.5" transform="rotate(-10 1399.7 869.7)" style="fill:#fcfcfc"/>
<ellipse class="t" cx="1396" cy="870" rx="7.6" ry="9.5" transform="rotate(-10 1396 870)" style="fill:#fcfcfc"/>
<path class="l" d="M 1400.5 861.3 Q 1404.8 869.7 1401.4 878.1"/>
</g>
<path class="l" d="M1266.6 895.2 L1308.2 872.4"/>
<g id="p35">
<path class="b" d="M 1452.8 803.9 Q 1457.1 797.5 1463.8 799.7 Q 1468.9 807.3 1472.3 817.4 L 1475.6 815.7 L 1493.3 826.7 L 1494.2 871.4 L 1489.1 875.6 L 1474.8 878.1 L 1471.4 880.7 L 1457.1 872.2 L 1456.2 841 L 1458.8 815.7 Z" style="stroke-width:2;fill:#fcfcfc"/>
<ellipse class="t" cx="1459.3" cy="809.8" rx="2.9" ry="3.7" transform="rotate(-10 1459.3 809.8)" style="fill:#fcfcfc"/>
<path class="t" d="M 1472.3 817.4 L 1485.8 830.9 L 1486.6 876.4 M 1475.6 816 L 1489.1 829.2 L 1489.6 875.3"/>
<path class="b" d="M 1503 776 Q 1507.7 768.8 1514.4 771.8 Q 1518.2 778.6 1521.2 789.5 L 1525.4 788.7 L 1538.9 799.7 L 1539.4 846.1 L 1533 849.4 L 1524.6 852 L 1507.7 846.1 Q 1500.9 827.5 1507.7 793.8 Z" style="stroke-width:2;fill:#fcfcfc"/>
<ellipse class="t" cx="1509.4" cy="781.1" rx="2.5" ry="3.4" transform="rotate(-10 1509.4 781.1)" style="fill:#fcfcfc"/>
<path class="t" d="M 1521.2 790 L 1529.6 802.2 L 1529.6 850.8 M 1525.4 789 L 1533.8 801.3 L 1534.2 849.1"/>
</g>
<path class="l" d="M1569.8 886.9 L1493.7 863.8"/>
<path class="l" d="M1574 883.4 L1538.2 848"/>
<path class="t" d="M 1351.9 930.4 L 1378 929.3 L 1378 937.3 L 1351.9 938.5 Z" style="fill:#fcfcfc"/><ellipse class="t" cx="1351.9" cy="934.5" rx="2" ry="4" style="fill:#fcfcfc"/><path class="t" d="M 1376.6 927 L 1384.4 925.8 L 1389 929.9 L 1389 937.3 L 1383.8 940.2 L 1376.6 939.1 Z" style="fill:#fcfcfc"/><path class="l" d="M 1380.9 926.4 L 1380.9 939.6 M 1385.5 927 L 1385.5 939.1"/><path class="t" d="M 1389 930.4 L 1395.9 929.9 L 1395.9 936.2 L 1389 936.2 Z" style="fill:#222"/>
<path class="t" d="M 1326.3 975.9 L 1367.1 971.8 L 1367.1 979.9 L 1326.3 983.9 Z" style="fill:#fcfcfc"/><ellipse class="t" cx="1326.3" cy="979.9" rx="2" ry="4" style="fill:#fcfcfc"/><path class="t" d="M 1365.7 969.5 L 1373.4 968.4 L 1378 972.4 L 1378 979.9 L 1372.9 982.8 L 1365.7 981.6 Z" style="fill:#fcfcfc"/><path class="l" d="M 1370 969 L 1370 982.2 M 1374.6 969.5 L 1374.6 981.6"/><path class="t" d="M 1378 973 L 1384.9 972.4 L 1384.9 978.7 L 1378 978.7 Z" style="fill:#222"/>
<path class="l" d="M1268.3 940.3 L1351.3 934.2"/>
<path class="l" d="M1268.3 979.8 L1326.9 977.3"/>
<g id="p39">
<path class="b" d="M 1354.2 1029.1 L 1376.3 1027.6 A 8 14.9 0 0 1 1376.3 1058.7 L 1354.2 1062.1 Z" style="fill:#fcfcfc"/>
<ellipse class="b" cx="1354.2" cy="1045.4" rx="9.2" ry="16.7" style="fill:#fcfcfc"/>
</g>
<path class="l" d="M1266.8 1024.4 L1345.6 1040.6"/>
<!-- 80_callouts.svgf -->
<g class="c">
<circle cx="809.5" cy="238" r="16.3"/><text x="809.5" y="245.9">43</text>
<circle cx="809.5" cy="275.8" r="16.3"/><text x="809.5" y="283.7">5</text>
<circle cx="809.5" cy="315.5" r="16.3"/><text x="809.5" y="323.4">9</text>
<circle cx="1046.2" cy="426.2" r="16.3"/><text x="1046.2" y="434.1">8</text>
<circle cx="1046.2" cy="463.8" r="16.3"/><text x="1046.2" y="471.7">7</text>
<circle cx="922.2" cy="491.2" r="16.3"/><text x="922.2" y="499.1">11</text>
<circle cx="1234.2" cy="465" r="16.3"/><text x="1234.2" y="472.9">40</text>
<circle cx="750" cy="567" r="16.3"/><text x="750" y="574.9">25</text>
<circle cx="844.5" cy="621.2" r="16.3"/><text x="844.5" y="629.1">42</text>
<circle cx="1127" cy="648.8" r="16.3"/><text x="1127" y="656.7">10</text>
<circle cx="1171.2" cy="648.8" r="16.3"/><text x="1171.2" y="656.7">11</text>
<circle cx="1213" cy="648.8" r="16.3"/><text x="1213" y="656.7">2</text>
<circle cx="870.5" cy="718.8" r="16.3"/><text x="870.5" y="726.7">4</text>
<circle cx="870.5" cy="756.2" r="16.3"/><text x="870.5" y="764.1">41</text>
<circle cx="870.5" cy="793.8" r="16.3"/><text x="870.5" y="801.7">23</text>
<circle cx="870.5" cy="831.4" r="16.3"/><text x="870.5" y="839.3">21</text>
<circle cx="767" cy="793.8" r="16.3"/><text x="767" y="801.7">18</text>
<circle cx="1097.4" cy="756.2" r="16.3"/><text x="1097.4" y="764.1">24</text>
<circle cx="1097.4" cy="793.8" r="16.3"/><text x="1097.4" y="801.7">22</text>
<circle cx="1097.4" cy="868.6" r="16.3"/><text x="1097.4" y="876.5">20</text>
<circle cx="980.4" cy="920.8" r="16.3"/><text x="980.4" y="928.7">15</text>
<circle cx="1017.8" cy="937.3" r="16.3"/><text x="1017.8" y="945.2">16</text>
<circle cx="1056.4" cy="937.3" r="16.3"/><text x="1056.4" y="945.2">17</text>
<circle cx="568.8" cy="748.8" r="16.3"/><text x="568.8" y="756.7">19</text>
<circle cx="568.8" cy="785" r="16.3"/><text x="568.8" y="792.9">14</text>
<circle cx="421.2" cy="915" r="16.3"/><text x="421.2" y="922.9">47</text>
<circle cx="1282.9" cy="764.6" r="16.3"/><text x="1282.9" y="772.5">44</text>
<circle cx="1252" cy="902.6" r="16.3"/><text x="1252" y="910.5">36</text>
<circle cx="1252" cy="940.8" r="16.3"/><text x="1252" y="948.7">37</text>
<circle cx="1252" cy="978.8" r="16.3"/><text x="1252" y="986.7">38</text>
<circle cx="1252" cy="1017.6" r="16.3"/><text x="1252" y="1025.5">39</text>
<circle cx="1582.8" cy="896.8" r="16.3"/><text x="1582.8" y="904.7">35</text>
<circle cx="1582.8" cy="935.6" r="16.3"/><text x="1582.8" y="943.5">34</text>
<circle cx="1582.8" cy="1021.3" r="16.3"/><text x="1582.8" y="1029.2">33</text>
<circle cx="126.8" cy="983.8" r="16.3"/><text x="126.8" y="991.7">32</text>
<circle cx="337" cy="1052" r="16.3"/><text x="337" y="1059.9">28</text>
<circle cx="373.8" cy="1052" r="16.3"/><text x="373.8" y="1059.9">26</text>
<circle cx="54.5" cy="1155.5" r="16.3"/><text x="54.5" y="1163.4">29</text>
<circle cx="54.5" cy="1190.5" r="16.3"/><text x="54.5" y="1198.4">27</text>
<circle cx="54.5" cy="1225.5" r="16.3"/><text x="54.5" y="1233.4">30</text>
<circle cx="305" cy="1222.5" r="16.3"/><text x="305" y="1230.4">31</text>
<circle cx="521.8" cy="1009.5" r="16.3"/><text x="521.8" y="1017.4">6</text>
<circle cx="699.6" cy="1014" r="16.3"/><text x="699.6" y="1021.9">3</text>
<circle cx="724.6" cy="1040" r="16.3"/><text x="724.6" y="1047.9">10</text>
<circle cx="528.2" cy="1080" r="16.3"/><text x="528.2" y="1087.9">11</text>
<circle cx="687" cy="1178.8" r="16.3"/><text x="687" y="1186.7">53</text>
<circle cx="446.2" cy="1331.2" r="16.3"/><text x="446.2" y="1339.1">1</text>
<circle cx="660.8" cy="1329" r="16.3"/><text x="660.8" y="1336.9">12</text>
<circle cx="747.5" cy="1378" r="16.3"/><text x="747.5" y="1385.9">13</text>
<circle cx="1097" cy="1175" r="16.3"/><text x="1097" y="1182.9">45</text>
<circle cx="1097" cy="1214.2" r="16.3"/><text x="1097" y="1222.1">46</text>
</g>
<!-- 90_copyright.svgf -->
<clipPath id="cpclip"><rect x="0" y="1400" width="1600" height="84.5"/></clipPath>
<g clip-path="url(#cpclip)"><text x="592.6" y="1479.6" style="font-size:28.6px" stroke="#000" stroke-width="0.5" textLength="443.5" lengthAdjust="spacingAndGlyphs">© Copyright 2021 Betamotor S.p.A.</text></g>
</svg>
</body></html>
